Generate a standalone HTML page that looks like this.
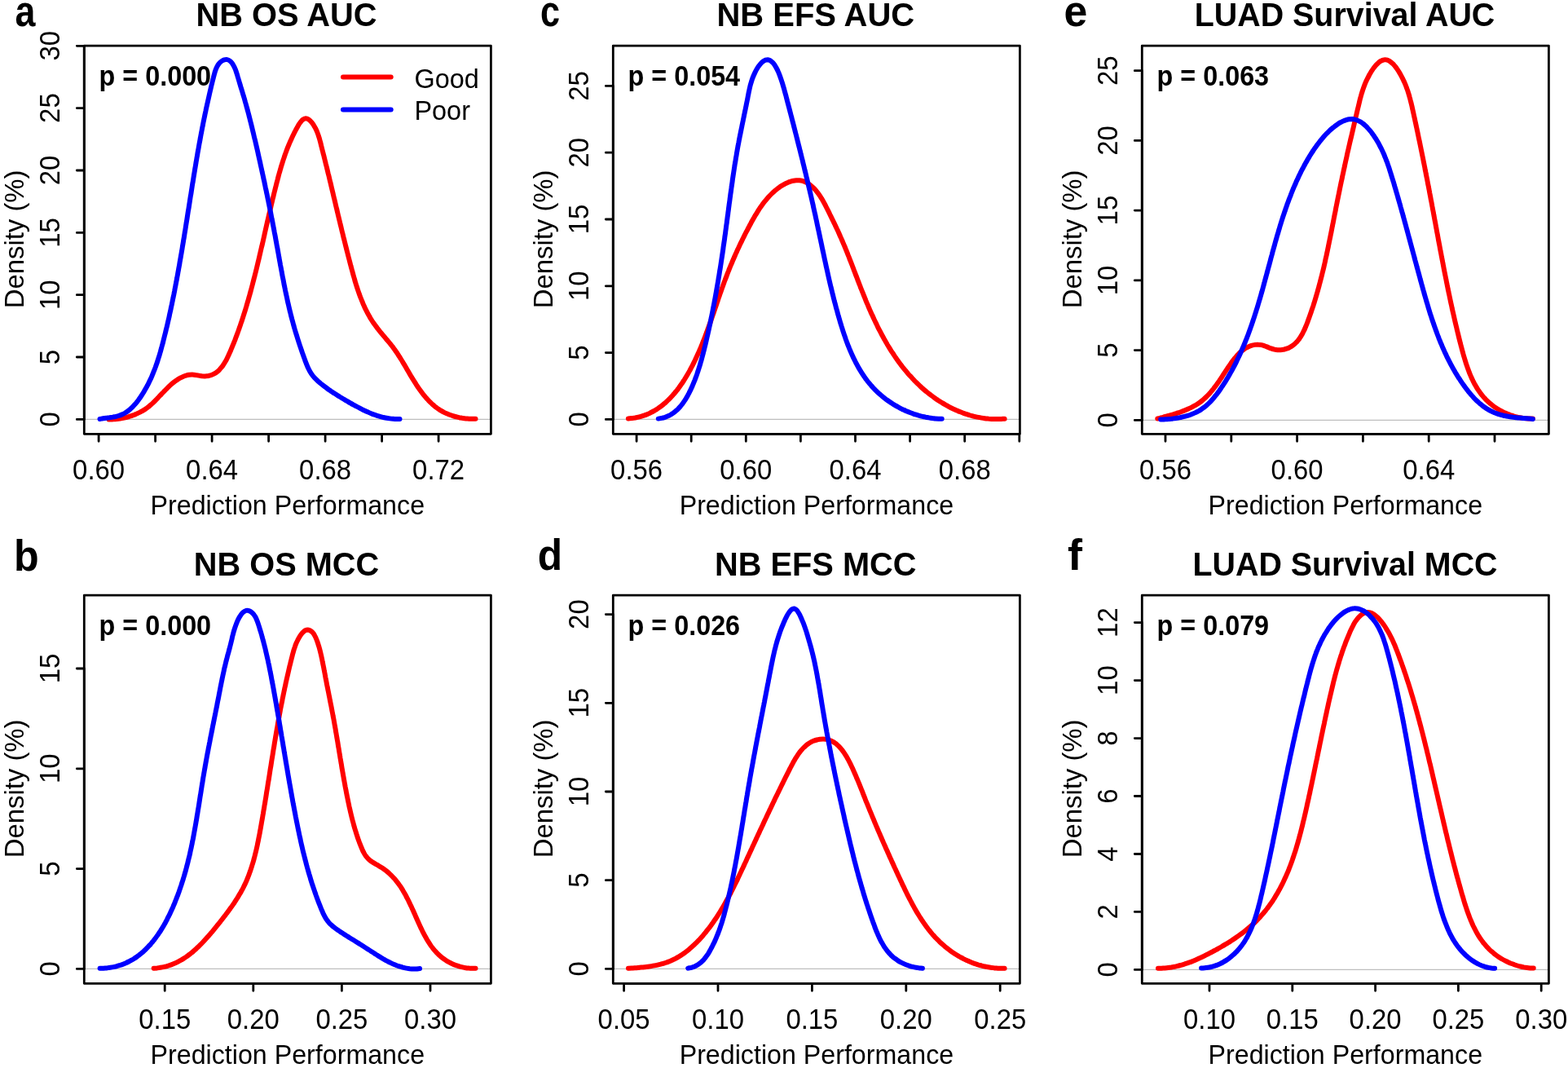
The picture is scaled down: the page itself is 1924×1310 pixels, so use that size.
<!DOCTYPE html><html><head><meta charset="utf-8"><title>Density plots</title><style>html,body{margin:0;padding:0;background:#fff;width:1924px;height:1310px;overflow:hidden}svg{display:block}text{font-family:"Liberation Sans", Arial, sans-serif}</style></head><body>
<svg width="1924" height="1310" viewBox="0 0 1924 1310">
<rect width="1924" height="1310" fill="#fff"/>
<g><line x1="103.3" y1="514.4" x2="602.4" y2="514.4" stroke="#bebebe" stroke-width="1.3"/><path d="M133.5 514.4C134.8 514.4 136.1 514.4 137.5 514.4C138.8 514.3 140.1 514.3 141.4 514.2C142.8 514.1 144.1 513.9 145.4 513.7C146.8 513.6 148.1 513.4 149.4 513.1C150.7 512.9 152.1 512.6 153.4 512.3C154.7 512 156 511.7 157.3 511.3C158.6 510.9 159.9 510.5 161.2 510.1C162.5 509.7 163.7 509.2 165 508.7C166.2 508.2 167.5 507.7 168.7 507.1C169.9 506.6 171.1 506 172.3 505.4C173.5 504.7 174.6 504.1 175.8 503.4C176.9 502.7 178 502 179.1 501.2C180.2 500.5 181.2 499.7 182.3 498.9C183.3 498 184.3 497.2 185.3 496.3C186.3 495.5 187.2 494.6 188.2 493.7C189.1 492.8 190.1 491.8 191 490.9C192 489.9 192.9 489 193.8 488C194.7 487.1 195.6 486.1 196.5 485.1C197.5 484.1 198.4 483.1 199.3 482.2C200.2 481.2 201.2 480.2 202.1 479.2C203 478.2 204 477.3 205 476.3C205.9 475.4 206.9 474.4 207.9 473.5C208.9 472.5 210 471.6 211 470.7C212.1 469.8 213.1 469 214.2 468.1C215.3 467.3 216.4 466.5 217.6 465.8C218.7 465 219.9 464.3 221 463.7C222.2 463 223.4 462.4 224.6 461.9C225.8 461.4 227 461 228.3 460.6C229.5 460.3 230.8 460 232.1 459.8C233.3 459.7 234.6 459.6 235.9 459.6C237.2 459.6 238.5 459.8 239.8 460C241.2 460.1 242.5 460.4 243.8 460.6C245.1 460.9 246.5 461.1 247.8 461.3C249.1 461.4 250.5 461.5 251.8 461.4C253.1 461.4 254.4 461.2 255.7 461C256.9 460.7 258.2 460.4 259.4 460C260.6 459.5 261.8 459 262.9 458.4C264 457.8 265.1 457.1 266.1 456.3C267.1 455.5 268.1 454.7 269 453.8C269.9 452.8 270.8 451.9 271.6 450.8C272.5 449.8 273.3 448.7 274 447.6C274.8 446.5 275.5 445.3 276.2 444.1C276.9 442.9 277.6 441.7 278.2 440.4C278.9 439.2 279.5 437.9 280.1 436.6C280.7 435.3 281.3 434 281.8 432.7C282.4 431.4 283 430.1 283.5 428.8C284.1 427.5 284.6 426.2 285.1 424.9C285.6 423.6 286.2 422.4 286.7 421.1C287.2 419.8 287.7 418.5 288.2 417.3C288.7 416 289.1 414.8 289.6 413.5C290.1 412.3 290.6 411 291 409.8C291.5 408.5 291.9 407.3 292.4 406C292.8 404.8 293.3 403.6 293.7 402.3C294.1 401.1 294.6 399.8 295 398.6C295.4 397.4 295.8 396.1 296.3 394.9C296.7 393.6 297.1 392.4 297.5 391.1C297.9 389.9 298.3 388.6 298.7 387.4C299.1 386.1 299.5 384.9 299.9 383.6C300.3 382.4 300.7 381.1 301.1 379.9C301.5 378.6 301.8 377.3 302.2 376.1C302.6 374.8 303 373.5 303.3 372.3C303.7 371 304.1 369.7 304.5 368.5C304.8 367.2 305.2 365.9 305.5 364.7C305.9 363.4 306.3 362.1 306.6 360.8C307 359.5 307.3 358.3 307.7 357C308 355.7 308.4 354.4 308.7 353.1C309 351.8 309.4 350.6 309.7 349.3C310.1 348 310.4 346.7 310.7 345.4C311.1 344.1 311.4 342.8 311.7 341.5C312.1 340.2 312.4 338.9 312.7 337.7C313 336.4 313.4 335.1 313.7 333.8C314 332.5 314.3 331.2 314.7 329.9C315 328.6 315.3 327.3 315.6 326C315.9 324.7 316.2 323.4 316.5 322.1C316.9 320.8 317.2 319.5 317.5 318.2C317.8 316.8 318.1 315.5 318.4 314.2C318.7 312.9 319 311.6 319.3 310.3C319.6 309 319.9 307.7 320.2 306.4C320.5 305.1 320.8 303.8 321.1 302.5C321.5 301.2 321.8 299.9 322.1 298.5C322.4 297.2 322.7 295.9 323 294.6C323.3 293.3 323.6 292 323.9 290.7C324.2 289.4 324.5 288.1 324.7 286.8C325 285.4 325.3 284.1 325.6 282.8C325.9 281.5 326.2 280.2 326.5 278.9C326.8 277.6 327.1 276.3 327.4 275C327.7 273.7 328 272.3 328.3 271C328.6 269.7 328.9 268.4 329.2 267.1C329.5 265.8 329.8 264.5 330.1 263.2C330.4 261.9 330.7 260.6 331.1 259.3C331.4 258 331.7 256.7 332 255.4C332.3 254 332.6 252.7 332.9 251.4C333.2 250.1 333.5 248.8 333.8 247.5C334.1 246.2 334.4 244.9 334.7 243.6C335.1 242.3 335.4 241 335.7 239.7C336 238.4 336.3 237.1 336.6 235.8C337 234.5 337.3 233.2 337.6 232C337.9 230.7 338.2 229.4 338.6 228.1C338.9 226.8 339.2 225.5 339.6 224.2C339.9 222.9 340.2 221.6 340.6 220.3C340.9 219.1 341.2 217.8 341.6 216.5C341.9 215.2 342.3 213.9 342.6 212.6C343 211.4 343.4 210.1 343.7 208.8C344.1 207.5 344.5 206.2 344.8 205C345.2 203.7 345.6 202.4 346 201.1C346.4 199.9 346.8 198.6 347.2 197.3C347.6 196 348 194.8 348.5 193.5C348.9 192.2 349.3 191 349.8 189.7C350.2 188.4 350.7 187.2 351.2 185.9C351.6 184.6 352.1 183.4 352.6 182.1C353.1 180.8 353.6 179.6 354.1 178.3C354.6 177.1 355.2 175.8 355.7 174.5C356.2 173.3 356.8 172 357.4 170.8C357.9 169.5 358.5 168.3 359.1 167C359.7 165.7 360.4 164.5 361 163.2C361.6 162 362.3 160.7 362.9 159.5C363.6 158.2 364.3 157 365 155.8C365.7 154.5 366.4 153.3 367.1 152.1C367.9 151 368.6 149.9 369.4 149C370.1 148.1 370.9 147.2 371.8 146.6C372.6 146 373.4 145.5 374.3 145.4C375.1 145.2 376 145.3 376.9 145.6C377.8 145.9 378.7 146.5 379.5 147.1C380.5 147.9 381.3 148.8 382.2 149.8C383.1 150.8 383.9 152 384.7 153.2C385.5 154.5 386.3 155.9 387 157.2C387.7 158.6 388.4 160.1 389 161.5C389.6 163 390.1 164.4 390.6 165.9C391.1 167.4 391.6 168.8 392 170.3C392.4 171.7 392.8 173.2 393.2 174.6C393.6 176 393.9 177.4 394.2 178.8C394.6 180.1 394.9 181.5 395.2 182.8C395.6 184.1 395.9 185.4 396.2 186.7C396.5 187.9 396.8 189.2 397.2 190.4C397.5 191.6 397.8 192.9 398.1 194.1C398.4 195.3 398.7 196.5 399 197.8C399.3 199 399.6 200.2 399.9 201.5C400.3 202.7 400.6 204 400.9 205.2C401.2 206.5 401.5 207.8 401.8 209C402.1 210.3 402.4 211.6 402.7 212.9C403.1 214.1 403.4 215.4 403.7 216.7C404 218 404.3 219.3 404.6 220.6C404.9 221.9 405.2 223.2 405.6 224.5C405.9 225.8 406.2 227.2 406.5 228.5C406.8 229.8 407.1 231.1 407.4 232.4C407.8 233.7 408.1 235 408.4 236.4C408.7 237.7 409 239 409.3 240.3C409.6 241.6 409.9 242.9 410.3 244.3C410.6 245.6 410.9 246.9 411.2 248.2C411.5 249.5 411.8 250.8 412.1 252.1C412.4 253.4 412.7 254.7 413.1 256C413.4 257.3 413.7 258.7 414 260C414.3 261.3 414.6 262.6 414.9 263.9C415.2 265.2 415.6 266.5 415.9 267.8C416.2 269.1 416.5 270.4 416.8 271.7C417.1 273 417.4 274.2 417.7 275.5C418.1 276.8 418.4 278.1 418.7 279.4C419 280.7 419.3 282 419.6 283.3C419.9 284.6 420.3 285.9 420.6 287.2C420.9 288.5 421.2 289.8 421.5 291.1C421.8 292.3 422.2 293.6 422.5 294.9C422.8 296.2 423.1 297.5 423.5 298.8C423.8 300.1 424.1 301.4 424.4 302.7C424.8 304 425.1 305.3 425.4 306.5C425.7 307.8 426.1 309.1 426.4 310.4C426.7 311.7 427.1 313 427.4 314.3C427.7 315.6 428.1 316.9 428.4 318.2C428.7 319.5 429.1 320.7 429.4 322C429.7 323.3 430.1 324.6 430.4 325.9C430.8 327.2 431.1 328.5 431.5 329.8C431.8 331.1 432.2 332.4 432.5 333.7C432.9 335 433.2 336.3 433.6 337.6C434 338.9 434.3 340.2 434.7 341.4C435.1 342.7 435.4 344 435.8 345.3C436.2 346.6 436.6 347.9 437 349.2C437.4 350.4 437.8 351.7 438.2 353C438.6 354.3 439.1 355.5 439.5 356.8C439.9 358.1 440.4 359.3 440.8 360.6C441.3 361.9 441.7 363.1 442.2 364.4C442.7 365.6 443.2 366.9 443.7 368.1C444.2 369.3 444.7 370.6 445.2 371.8C445.7 373 446.2 374.2 446.8 375.4C447.3 376.7 447.9 377.9 448.5 379.1C449.1 380.3 449.7 381.4 450.3 382.6C450.9 383.8 451.5 385 452.2 386.1C452.8 387.3 453.5 388.4 454.1 389.6C454.8 390.7 455.5 391.9 456.2 393C456.9 394.1 457.7 395.2 458.4 396.3C459.2 397.4 460 398.5 460.8 399.6C461.6 400.7 462.4 401.8 463.2 402.8C464 403.9 464.9 404.9 465.7 406C466.6 407 467.4 408.1 468.3 409.1C469.2 410.2 470 411.2 470.9 412.2C471.8 413.3 472.7 414.3 473.5 415.3C474.4 416.4 475.3 417.4 476.1 418.4C477 419.5 477.8 420.5 478.7 421.5C479.5 422.6 480.4 423.6 481.2 424.7C482 425.7 482.8 426.8 483.6 427.9C484.3 428.9 485.1 430 485.8 431.1C486.6 432.2 487.3 433.3 488.1 434.3C488.8 435.4 489.5 436.5 490.2 437.7C490.9 438.8 491.6 439.9 492.3 441C493 442.1 493.7 443.2 494.3 444.4C495 445.5 495.7 446.6 496.4 447.8C497 448.9 497.7 450.1 498.4 451.2C499.1 452.4 499.7 453.5 500.4 454.7C501.1 455.8 501.8 457 502.4 458.2C503.1 459.3 503.8 460.5 504.5 461.7C505.2 462.8 505.9 464 506.6 465.1C507.3 466.3 508.1 467.5 508.8 468.6C509.5 469.8 510.2 470.9 511 472.1C511.7 473.2 512.5 474.3 513.3 475.4C514 476.6 514.8 477.7 515.6 478.8C516.4 479.9 517.2 481 518 482C518.8 483.1 519.6 484.2 520.5 485.2C521.3 486.2 522.2 487.3 523.1 488.3C524 489.3 524.9 490.2 525.8 491.2C526.7 492.2 527.6 493.1 528.6 494C529.5 494.9 530.5 495.8 531.5 496.7C532.5 497.5 533.5 498.4 534.5 499.2C535.6 500 536.6 500.8 537.7 501.5C538.8 502.2 539.9 503 541 503.6C542.2 504.3 543.3 505 544.5 505.6C545.7 506.2 546.9 506.8 548.1 507.3C549.3 507.8 550.6 508.3 551.8 508.8C553.1 509.3 554.4 509.7 555.7 510.1C556.9 510.5 558.2 510.9 559.6 511.2C560.9 511.6 562.2 511.9 563.5 512.2C564.8 512.4 566.2 512.7 567.5 512.9C568.9 513.1 570.2 513.3 571.5 513.4C572.9 513.5 574.2 513.6 575.6 513.7C576.9 513.8 578.2 513.8 579.5 513.8C580.9 513.9 582.2 513.8 583.5 513.8" fill="none" stroke="#ff0000" stroke-width="6" stroke-linecap="round" stroke-linejoin="round"/><path d="M122.5 514C123.8 513.8 125 513.5 126.3 513.3C127.6 513.1 129 512.9 130.3 512.7C131.6 512.5 133 512.4 134.3 512.2C135.7 512 137.1 511.8 138.4 511.6C139.7 511.3 141.1 511.1 142.4 510.8C143.7 510.5 145 510.2 146.3 509.7C147.5 509.3 148.8 508.9 150 508.3C151.2 507.8 152.3 507.2 153.5 506.5C154.6 505.8 155.7 505.1 156.8 504.3C157.8 503.6 158.9 502.7 159.9 501.8C160.9 501 161.8 500 162.8 499.1C163.7 498.1 164.6 497.1 165.5 496.1C166.4 495.1 167.3 494 168.1 492.9C169 491.9 169.8 490.8 170.6 489.6C171.4 488.5 172.2 487.4 172.9 486.3C173.7 485.2 174.4 484 175.1 482.9C175.9 481.7 176.6 480.6 177.2 479.4C177.9 478.3 178.6 477.1 179.2 475.9C179.9 474.8 180.5 473.6 181.1 472.4C181.8 471.2 182.4 470 182.9 468.8C183.5 467.6 184.1 466.4 184.7 465.2C185.2 464 185.8 462.8 186.3 461.6C186.8 460.4 187.3 459.2 187.8 457.9C188.3 456.7 188.8 455.5 189.3 454.2C189.8 453 190.2 451.8 190.7 450.5C191.1 449.3 191.6 448 192 446.8C192.5 445.5 192.9 444.3 193.3 443C193.7 441.7 194.1 440.5 194.5 439.2C194.9 437.9 195.3 436.7 195.7 435.4C196.1 434.1 196.4 432.8 196.8 431.6C197.2 430.3 197.5 429 197.9 427.7C198.2 426.4 198.6 425.2 198.9 423.9C199.3 422.6 199.6 421.3 200 420C200.3 418.7 200.6 417.4 200.9 416.1C201.3 414.8 201.6 413.5 201.9 412.2C202.2 410.9 202.6 409.6 202.9 408.3C203.2 407.1 203.5 405.8 203.8 404.5C204.1 403.2 204.5 401.9 204.8 400.6C205.1 399.3 205.4 397.9 205.7 396.6C206 395.3 206.3 394 206.6 392.7C206.9 391.4 207.2 390.1 207.5 388.8C207.8 387.5 208 386.2 208.3 384.9C208.6 383.6 208.9 382.3 209.2 381C209.5 379.7 209.7 378.4 210 377C210.3 375.7 210.6 374.4 210.9 373.1C211.1 371.8 211.4 370.5 211.7 369.2C211.9 367.9 212.2 366.5 212.5 365.2C212.7 363.9 213 362.6 213.3 361.3C213.5 360 213.8 358.7 214.1 357.3C214.3 356 214.6 354.7 214.8 353.4C215.1 352.1 215.3 350.8 215.6 349.4C215.8 348.1 216.1 346.8 216.3 345.5C216.6 344.2 216.8 342.9 217.1 341.5C217.3 340.2 217.6 338.9 217.8 337.6C218.1 336.3 218.3 334.9 218.5 333.6C218.8 332.3 219 331 219.2 329.7C219.5 328.3 219.7 327 220 325.7C220.2 324.4 220.4 323.1 220.6 321.7C220.9 320.4 221.1 319.1 221.3 317.8C221.6 316.4 221.8 315.1 222 313.8C222.2 312.5 222.5 311.2 222.7 309.8C222.9 308.5 223.1 307.2 223.4 305.9C223.6 304.6 223.8 303.2 224 301.9C224.2 300.6 224.5 299.3 224.7 297.9C224.9 296.6 225.1 295.3 225.3 294C225.6 292.7 225.8 291.3 226 290C226.2 288.7 226.4 287.4 226.6 286.1C226.8 284.7 227.1 283.4 227.3 282.1C227.5 280.8 227.7 279.5 227.9 278.1C228.1 276.8 228.3 275.5 228.5 274.2C228.7 272.9 229 271.6 229.2 270.2C229.4 268.9 229.6 267.6 229.8 266.3C230 265 230.2 263.7 230.4 262.3C230.6 261 230.8 259.7 231 258.4C231.3 257.1 231.5 255.8 231.7 254.5C231.9 253.1 232.1 251.8 232.3 250.5C232.5 249.2 232.7 247.9 232.9 246.6C233.1 245.3 233.3 244 233.5 242.6C233.7 241.3 233.9 240 234.2 238.7C234.4 237.4 234.6 236.1 234.8 234.8C235 233.5 235.2 232.2 235.4 230.9C235.6 229.6 235.8 228.2 236 226.9C236.2 225.6 236.4 224.3 236.7 223C236.9 221.7 237.1 220.4 237.3 219.1C237.5 217.8 237.7 216.5 237.9 215.2C238.1 213.9 238.4 212.6 238.6 211.2C238.8 209.9 239 208.6 239.2 207.3C239.4 206 239.7 204.7 239.9 203.4C240.1 202.1 240.3 200.8 240.5 199.5C240.7 198.2 241 196.9 241.2 195.6C241.4 194.2 241.6 192.9 241.9 191.6C242.1 190.3 242.3 189 242.5 187.7C242.8 186.4 243 185.1 243.2 183.8C243.5 182.5 243.7 181.2 243.9 179.8C244.2 178.5 244.4 177.2 244.6 175.9C244.9 174.6 245.1 173.3 245.4 172C245.6 170.7 245.8 169.3 246.1 168C246.3 166.7 246.6 165.4 246.8 164.1C247.1 162.8 247.3 161.4 247.6 160.1C247.8 158.8 248.1 157.5 248.3 156.2C248.6 154.9 248.9 153.5 249.1 152.2C249.4 150.9 249.6 149.6 249.9 148.2C250.2 146.9 250.4 145.6 250.7 144.3C251 143 251.3 141.6 251.5 140.3C251.8 139 252.1 137.6 252.4 136.3C252.6 135 252.9 133.7 253.2 132.3C253.5 131 253.8 129.7 254.1 128.3C254.4 127 254.7 125.7 255 124.3C255.3 123 255.6 121.6 255.9 120.3C256.2 119 256.5 117.6 256.8 116.3C257.1 114.9 257.4 113.6 257.7 112.3C258 110.9 258.4 109.6 258.7 108.2C259 106.9 259.3 105.5 259.6 104.2C260 102.8 260.3 101.5 260.6 100.1C261 98.8 261.3 97.4 261.7 96C262 94.7 262.3 93.3 262.7 92C263.1 90.6 263.4 89.3 263.8 88C264.2 86.7 264.7 85.4 265.2 84.1C265.7 82.9 266.2 81.7 266.9 80.6C267.5 79.6 268.2 78.5 269.1 77.6C269.9 76.7 270.8 75.8 271.8 75.1C272.8 74.4 274 73.8 275.1 73.4C276.3 73.1 277.5 72.9 278.7 73.1C279.8 73.3 281 73.9 282 74.6C283 75.3 284 76.4 284.8 77.5C285.7 78.7 286.4 80 287.1 81.3C287.8 82.6 288.4 84 289 85.5C289.5 86.9 290 88.5 290.5 90C291 91.4 291.4 93 291.8 94.4C292.3 95.9 292.7 97.3 293.1 98.7C293.5 100.1 293.9 101.4 294.3 102.8C294.7 104 295.1 105.3 295.4 106.6C295.8 107.8 296.2 109 296.6 110.2C296.9 111.5 297.3 112.7 297.7 113.9C298 115.1 298.4 116.3 298.8 117.5C299.1 118.7 299.5 119.9 299.9 121.1C300.2 122.4 300.6 123.6 300.9 124.8C301.3 126.1 301.6 127.4 302 128.6C302.3 129.9 302.7 131.2 303 132.4C303.4 133.7 303.7 135 304.1 136.3C304.4 137.6 304.8 138.9 305.1 140.2C305.4 141.5 305.8 142.8 306.1 144.1C306.4 145.4 306.8 146.8 307.1 148.1C307.4 149.4 307.8 150.7 308.1 152C308.4 153.3 308.8 154.7 309.1 156C309.4 157.3 309.7 158.6 310 159.9C310.4 161.2 310.7 162.5 311 163.9C311.3 165.2 311.6 166.5 311.9 167.8C312.2 169.1 312.5 170.4 312.9 171.7C313.2 173 313.5 174.3 313.8 175.6C314.1 176.9 314.4 178.2 314.7 179.5C315 180.8 315.3 182.1 315.6 183.4C315.9 184.7 316.2 186 316.5 187.3C316.7 188.6 317 189.9 317.3 191.2C317.6 192.5 317.9 193.8 318.2 195.1C318.5 196.4 318.8 197.7 319.1 199C319.4 200.3 319.6 201.6 319.9 202.9C320.2 204.2 320.5 205.5 320.8 206.8C321.1 208.1 321.4 209.4 321.6 210.7C321.9 212 322.2 213.3 322.5 214.6C322.8 215.9 323.1 217.2 323.3 218.5C323.6 219.8 323.9 221.1 324.2 222.4C324.5 223.7 324.7 225 325 226.3C325.3 227.6 325.6 229 325.8 230.3C326.1 231.6 326.4 232.9 326.7 234.2C326.9 235.5 327.2 236.8 327.5 238.1C327.8 239.4 328 240.7 328.3 242C328.6 243.3 328.8 244.6 329.1 245.9C329.4 247.2 329.6 248.6 329.9 249.9C330.2 251.2 330.4 252.5 330.7 253.8C331 255.1 331.2 256.4 331.5 257.7C331.8 259 332 260.3 332.3 261.7C332.5 263 332.8 264.3 333 265.6C333.3 266.9 333.6 268.2 333.8 269.5C334.1 270.8 334.3 272.1 334.6 273.5C334.8 274.8 335.1 276.1 335.3 277.4C335.6 278.7 335.8 280 336.1 281.3C336.3 282.7 336.6 284 336.8 285.3C337.1 286.6 337.3 287.9 337.6 289.2C337.8 290.6 338.1 291.9 338.3 293.2C338.5 294.5 338.8 295.8 339 297.1C339.3 298.5 339.5 299.8 339.7 301.1C340 302.4 340.2 303.7 340.5 305C340.7 306.4 340.9 307.7 341.2 309C341.4 310.3 341.7 311.6 341.9 312.9C342.1 314.3 342.4 315.6 342.6 316.9C342.8 318.2 343.1 319.5 343.3 320.9C343.6 322.2 343.8 323.5 344 324.8C344.3 326.1 344.5 327.4 344.8 328.8C345 330.1 345.3 331.4 345.5 332.7C345.8 334 346 335.3 346.2 336.6C346.5 338 346.7 339.3 347 340.6C347.3 341.9 347.5 343.2 347.8 344.5C348 345.8 348.3 347.1 348.5 348.5C348.8 349.8 349.1 351.1 349.3 352.4C349.6 353.7 349.9 355 350.1 356.3C350.4 357.6 350.7 358.9 350.9 360.2C351.2 361.5 351.5 362.8 351.8 364.1C352.1 365.4 352.3 366.7 352.6 368C352.9 369.4 353.2 370.7 353.5 372C353.8 373.2 354.1 374.5 354.4 375.8C354.7 377.1 355 378.4 355.3 379.7C355.6 381 355.9 382.3 356.3 383.6C356.6 384.9 356.9 386.2 357.2 387.5C357.6 388.8 357.9 390.1 358.2 391.3C358.6 392.6 358.9 393.9 359.3 395.2C359.6 396.5 360 397.8 360.3 399C360.7 400.3 361 401.6 361.4 402.9C361.8 404.1 362.1 405.4 362.5 406.7C362.9 408 363.3 409.2 363.7 410.5C364.1 411.8 364.5 413 364.9 414.3C365.3 415.6 365.7 416.9 366.1 418.1C366.5 419.4 366.9 420.7 367.3 421.9C367.7 423.2 368.2 424.5 368.6 425.7C369 427 369.4 428.3 369.9 429.5C370.3 430.8 370.8 432.1 371.2 433.4C371.7 434.6 372.1 435.9 372.6 437.2C373 438.4 373.5 439.7 374 441C374.4 442.3 374.9 443.6 375.4 444.8C375.9 446.1 376.4 447.4 376.9 448.6C377.4 449.9 378 451.1 378.6 452.3C379.1 453.5 379.8 454.7 380.4 455.8C381.1 457 381.8 458.1 382.6 459.2C383.3 460.2 384.1 461.3 385 462.3C385.8 463.3 386.7 464.2 387.7 465.2C388.6 466.1 389.6 467 390.6 467.9C391.5 468.8 392.6 469.6 393.6 470.5C394.6 471.3 395.7 472.1 396.7 472.9C397.8 473.8 398.8 474.6 399.9 475.3C401 476.1 402 476.9 403.1 477.7C404.2 478.5 405.3 479.2 406.4 480C407.5 480.7 408.6 481.4 409.7 482.2C410.9 482.9 412 483.6 413.1 484.3C414.2 485.1 415.4 485.8 416.5 486.5C417.7 487.2 418.8 487.9 419.9 488.5C421.1 489.2 422.2 489.9 423.4 490.6C424.6 491.3 425.7 491.9 426.9 492.6C428 493.3 429.2 494 430.4 494.6C431.5 495.3 432.7 496 433.9 496.6C435.1 497.3 436.2 497.9 437.4 498.5C438.6 499.2 439.8 499.8 441 500.4C442.2 501.1 443.4 501.7 444.5 502.3C445.7 502.9 446.9 503.4 448.2 504C449.4 504.6 450.6 505.1 451.8 505.6C453 506.2 454.2 506.7 455.5 507.2C456.7 507.7 457.9 508.2 459.2 508.6C460.4 509.1 461.7 509.5 462.9 509.9C464.2 510.3 465.4 510.7 466.7 511C468 511.4 469.3 511.7 470.5 512C471.8 512.3 473.1 512.6 474.4 512.8C475.7 513 477 513.2 478.4 513.4C479.7 513.6 481 513.7 482.4 513.8C483.7 513.9 485.1 514 486.4 514C487.8 514 489.2 513.9 490.5 513.9" fill="none" stroke="#0000ff" stroke-width="6" stroke-linecap="round" stroke-linejoin="round"/><rect x="103.3" y="56.2" width="499.1" height="476.1" fill="none" stroke="#000" stroke-width="2.8" stroke-linejoin="round"/><path d="M121.1 532.3H538.1M121.1 532.3V541.3M190.6 532.3V541.3M260.1 532.3V541.3M329.6 532.3V541.3M399.1 532.3V541.3M468.6 532.3V541.3M538.1 532.3V541.3M103.3 514.4V56.3M103.3 514.4H94.3M103.3 438H94.3M103.3 361.7H94.3M103.3 285.4H94.3M103.3 209H94.3M103.3 132.6H94.3M103.3 56.3H94.3" fill="none" stroke="#000" stroke-width="2.8" stroke-linecap="round"/><text transform="translate(121.1 587.8) scale(0.934 1)" font-size="35.2" text-anchor="middle">0.60</text><text transform="translate(260.1 587.8) scale(0.934 1)" font-size="35.2" text-anchor="middle">0.64</text><text transform="translate(399.1 587.8) scale(0.934 1)" font-size="35.2" text-anchor="middle">0.68</text><text transform="translate(538.1 587.8) scale(0.934 1)" font-size="35.2" text-anchor="middle">0.72</text><text transform="translate(72.8 514.4) rotate(-90) scale(0.934 1)" font-size="35.2" text-anchor="middle">0</text><text transform="translate(72.8 438) rotate(-90) scale(0.934 1)" font-size="35.2" text-anchor="middle">5</text><text transform="translate(72.8 361.7) rotate(-90) scale(0.934 1)" font-size="35.2" text-anchor="middle">10</text><text transform="translate(72.8 285.4) rotate(-90) scale(0.934 1)" font-size="35.2" text-anchor="middle">15</text><text transform="translate(72.8 209) rotate(-90) scale(0.934 1)" font-size="35.2" text-anchor="middle">20</text><text transform="translate(72.8 132.6) rotate(-90) scale(0.934 1)" font-size="35.2" text-anchor="middle">25</text><text transform="translate(72.8 56.3) rotate(-90) scale(0.934 1)" font-size="35.2" text-anchor="middle">30</text><text transform="translate(352.8 631.4) scale(0.994 1)" font-size="32.4" text-anchor="middle">Prediction Performance</text><text transform="translate(29.2 293.4) rotate(-90) scale(1.015 1)" font-size="32.4" text-anchor="middle">Density (%)</text><text transform="translate(351.5 31.6) scale(0.9968 1)" font-size="40" font-weight="bold" text-anchor="middle">NB OS AUC</text><text transform="translate(121.6 104.6) scale(0.924 1)" font-size="35" font-weight="bold">p = 0.000</text><line x1="421" y1="94.6" x2="479.7" y2="94.6" stroke="#ff0000" stroke-width="6" stroke-linecap="round"/><line x1="421" y1="134.5" x2="479.7" y2="134.5" stroke="#0000ff" stroke-width="6" stroke-linecap="round"/><text x="508.5" y="108.1" font-size="32.4">Good</text><text x="508.5" y="147.3" font-size="32.4">Poor</text><text transform="translate(18.4 31.5) scale(0.83 1)" font-size="54" font-weight="bold">a</text></g>
<g><line x1="103.3" y1="1188.4" x2="602.4" y2="1188.4" stroke="#bebebe" stroke-width="1.3"/><path d="M188.7 1187.7C190.1 1187.6 191.5 1187.5 192.9 1187.4C194.3 1187.2 195.6 1187 197 1186.8C198.3 1186.6 199.6 1186.4 200.9 1186.1C202.2 1185.8 203.5 1185.4 204.8 1185.1C206.1 1184.7 207.3 1184.3 208.6 1183.9C209.8 1183.5 211 1183 212.2 1182.5C213.4 1182 214.6 1181.5 215.8 1181C217 1180.4 218.1 1179.8 219.3 1179.2C220.4 1178.6 221.5 1178 222.7 1177.4C223.8 1176.7 224.9 1176 226 1175.3C227.1 1174.6 228.1 1173.9 229.2 1173.1C230.3 1172.4 231.3 1171.6 232.4 1170.8C233.4 1170 234.4 1169.2 235.5 1168.4C236.5 1167.5 237.5 1166.7 238.5 1165.8C239.5 1164.9 240.5 1164 241.4 1163.1C242.4 1162.2 243.4 1161.3 244.3 1160.4C245.3 1159.4 246.2 1158.5 247.2 1157.5C248.1 1156.6 249.1 1155.6 250 1154.6C250.9 1153.6 251.8 1152.6 252.7 1151.6C253.6 1150.6 254.5 1149.6 255.4 1148.6C256.3 1147.6 257.2 1146.5 258.1 1145.5C259 1144.5 259.8 1143.4 260.7 1142.4C261.6 1141.3 262.4 1140.3 263.3 1139.2C264.2 1138.2 265 1137.1 265.9 1136.1C266.7 1135 267.6 1133.9 268.4 1132.9C269.3 1131.8 270.1 1130.8 270.9 1129.7C271.8 1128.6 272.6 1127.6 273.4 1126.5C274.3 1125.5 275.1 1124.4 275.9 1123.3C276.7 1122.3 277.5 1121.2 278.3 1120.2C279.1 1119.1 279.9 1118 280.7 1116.9C281.5 1115.9 282.3 1114.8 283 1113.7C283.8 1112.7 284.6 1111.6 285.3 1110.5C286.1 1109.4 286.8 1108.3 287.6 1107.2C288.3 1106.1 289 1105 289.7 1103.9C290.4 1102.8 291.1 1101.7 291.8 1100.6C292.5 1099.5 293.2 1098.4 293.8 1097.2C294.5 1096.1 295.2 1095 295.8 1093.8C296.4 1092.7 297.1 1091.5 297.7 1090.4C298.3 1089.2 298.9 1088.1 299.4 1086.9C300 1085.7 300.6 1084.5 301.1 1083.4C301.7 1082.2 302.2 1081 302.7 1079.8C303.2 1078.6 303.7 1077.4 304.2 1076.1C304.7 1074.9 305.2 1073.7 305.6 1072.5C306.1 1071.2 306.5 1070 307 1068.7C307.4 1067.5 307.8 1066.2 308.2 1065C308.7 1063.7 309.1 1062.5 309.4 1061.2C309.8 1059.9 310.2 1058.7 310.6 1057.4C311 1056.1 311.3 1054.8 311.7 1053.5C312 1052.2 312.4 1050.9 312.7 1049.6C313 1048.3 313.3 1047 313.7 1045.7C314 1044.4 314.3 1043.1 314.6 1041.8C314.9 1040.5 315.2 1039.2 315.5 1037.9C315.8 1036.6 316 1035.3 316.3 1033.9C316.6 1032.6 316.9 1031.3 317.1 1030C317.4 1028.6 317.6 1027.3 317.9 1026C318.2 1024.7 318.4 1023.3 318.7 1022C318.9 1020.7 319.1 1019.3 319.4 1018C319.6 1016.7 319.9 1015.4 320.1 1014C320.3 1012.7 320.6 1011.4 320.8 1010C321 1008.7 321.3 1007.4 321.5 1006.1C321.7 1004.7 322 1003.4 322.2 1002.1C322.4 1000.8 322.6 999.4 322.9 998.1C323.1 996.8 323.3 995.5 323.5 994.1C323.8 992.8 324 991.5 324.2 990.2C324.4 988.8 324.6 987.5 324.9 986.2C325.1 984.9 325.3 983.5 325.5 982.2C325.7 980.9 326 979.6 326.2 978.3C326.4 976.9 326.6 975.6 326.8 974.3C327 973 327.2 971.7 327.4 970.3C327.7 969 327.9 967.7 328.1 966.4C328.3 965.1 328.5 963.7 328.7 962.4C328.9 961.1 329.1 959.8 329.3 958.5C329.6 957.2 329.8 955.8 330 954.5C330.2 953.2 330.4 951.9 330.6 950.6C330.8 949.3 331 948 331.2 946.6C331.4 945.3 331.6 944 331.8 942.7C332.1 941.4 332.3 940.1 332.5 938.8C332.7 937.4 332.9 936.1 333.1 934.8C333.3 933.5 333.5 932.2 333.7 930.9C333.9 929.6 334.2 928.3 334.4 926.9C334.6 925.6 334.8 924.3 335 923C335.2 921.7 335.4 920.4 335.6 919.1C335.9 917.8 336.1 916.5 336.3 915.2C336.5 913.8 336.7 912.5 336.9 911.2C337.1 909.9 337.4 908.6 337.6 907.3C337.8 906 338 904.7 338.2 903.4C338.5 902.1 338.7 900.8 338.9 899.5C339.1 898.1 339.4 896.8 339.6 895.5C339.8 894.2 340 892.9 340.3 891.6C340.5 890.3 340.7 889 340.9 887.7C341.2 886.4 341.4 885.1 341.6 883.8C341.9 882.5 342.1 881.2 342.4 879.9C342.6 878.6 342.8 877.3 343.1 875.9C343.3 874.6 343.6 873.3 343.8 872C344 870.7 344.3 869.4 344.5 868.1C344.8 866.8 345 865.5 345.3 864.2C345.5 862.9 345.8 861.6 346.1 860.3C346.3 859 346.6 857.7 346.8 856.4C347.1 855.1 347.4 853.8 347.6 852.5C347.9 851.2 348.2 849.9 348.4 848.6C348.7 847.3 349 846 349.2 844.7C349.5 843.4 349.8 842.1 350.1 840.8C350.4 839.5 350.6 838.2 350.9 836.9C351.2 835.6 351.5 834.2 351.8 832.9C352.1 831.6 352.4 830.3 352.7 829C353 827.7 353.3 826.4 353.6 825.1C353.9 823.8 354.2 822.5 354.5 821.2C354.8 819.9 355.1 818.6 355.4 817.2C355.8 815.9 356.1 814.6 356.4 813.3C356.7 812 357 810.7 357.4 809.3C357.7 808 358 806.7 358.4 805.4C358.7 804.1 359 802.7 359.4 801.4C359.8 800.1 360.1 798.8 360.5 797.5C360.9 796.2 361.3 794.8 361.8 793.6C362.2 792.3 362.7 791 363.2 789.7C363.7 788.4 364.3 787.2 364.9 786C365.5 784.7 366.2 783.5 366.9 782.3C367.6 781.1 368.3 779.9 369.1 778.8C369.9 777.7 370.8 776.5 371.8 775.6C372.7 774.7 373.6 773.8 374.6 773.3C375.6 772.8 376.7 772.5 377.7 772.5C378.8 772.6 379.9 773 380.9 773.6C381.9 774.2 382.9 775.1 383.8 776.1C384.7 777.1 385.5 778.4 386.2 779.7C387 781 387.6 782.4 388.2 783.9C388.8 785.3 389.3 786.8 389.8 788.3C390.3 789.8 390.8 791.2 391.2 792.7C391.6 794 392 795.4 392.3 796.7C392.7 798 393 799.2 393.3 800.5C393.6 801.7 393.9 803 394.2 804.2C394.4 805.4 394.7 806.7 395 807.9C395.2 809.2 395.5 810.4 395.7 811.7C396 813 396.2 814.3 396.5 815.6C396.8 816.9 397 818.2 397.3 819.5C397.5 820.8 397.8 822.1 398 823.4C398.3 824.7 398.5 826 398.8 827.4C399 828.7 399.3 830 399.5 831.3C399.8 832.7 400 834 400.3 835.3C400.5 836.6 400.8 837.9 401 839.3C401.3 840.6 401.6 841.9 401.8 843.2C402.1 844.5 402.3 845.8 402.6 847.1C402.9 848.4 403.1 849.7 403.4 851.1C403.6 852.4 403.9 853.7 404.2 855C404.4 856.3 404.7 857.6 404.9 858.9C405.2 860.2 405.4 861.5 405.7 862.8C406 864.1 406.2 865.4 406.5 866.7C406.7 868 407 869.3 407.2 870.6C407.5 872 407.7 873.3 408 874.6C408.2 875.9 408.5 877.2 408.7 878.5C409 879.8 409.2 881.1 409.5 882.4C409.7 883.7 409.9 885 410.2 886.3C410.4 887.7 410.6 889 410.9 890.3C411.1 891.6 411.3 892.9 411.6 894.2C411.8 895.5 412 896.9 412.2 898.2C412.5 899.5 412.7 900.8 412.9 902.1C413.1 903.4 413.4 904.8 413.6 906.1C413.8 907.4 414 908.7 414.3 910C414.5 911.3 414.7 912.7 414.9 914C415.1 915.3 415.3 916.6 415.6 917.9C415.8 919.3 416 920.6 416.2 921.9C416.4 923.2 416.7 924.5 416.9 925.9C417.1 927.2 417.3 928.5 417.5 929.8C417.8 931.1 418 932.5 418.2 933.8C418.4 935.1 418.6 936.4 418.9 937.7C419.1 939 419.3 940.4 419.5 941.7C419.7 943 420 944.3 420.2 945.6C420.4 946.9 420.7 948.3 420.9 949.6C421.1 950.9 421.3 952.2 421.6 953.5C421.8 954.8 422 956.2 422.3 957.5C422.5 958.8 422.8 960.1 423 961.4C423.2 962.7 423.5 964 423.7 965.3C424 966.6 424.2 968 424.5 969.3C424.7 970.6 425 971.9 425.2 973.2C425.5 974.5 425.7 975.8 426 977.1C426.3 978.4 426.5 979.7 426.8 981C427.1 982.3 427.3 983.6 427.6 984.9C427.9 986.2 428.2 987.5 428.4 988.8C428.7 990.1 429 991.4 429.3 992.7C429.6 994 429.9 995.3 430.2 996.6C430.5 997.8 430.8 999.1 431.1 1000.4C431.4 1001.7 431.7 1003 432.1 1004.3C432.4 1005.6 432.7 1006.8 433.1 1008.1C433.4 1009.4 433.8 1010.7 434.1 1012C434.5 1013.3 434.8 1014.5 435.2 1015.8C435.6 1017.1 436 1018.4 436.4 1019.6C436.8 1020.9 437.2 1022.2 437.6 1023.5C438 1024.7 438.4 1026 438.8 1027.3C439.3 1028.6 439.7 1029.8 440.2 1031.1C440.6 1032.4 441.1 1033.6 441.6 1034.9C442.1 1036.2 442.6 1037.4 443.1 1038.7C443.6 1040 444.1 1041.2 444.7 1042.5C445.2 1043.7 445.8 1044.9 446.5 1046.1C447.1 1047.2 447.8 1048.4 448.5 1049.5C449.3 1050.5 450.1 1051.6 451 1052.5C451.9 1053.5 452.8 1054.4 453.8 1055.2C454.9 1056 456 1056.8 457.1 1057.5C458.2 1058.3 459.4 1059 460.6 1059.7C461.8 1060.4 463 1061 464.2 1061.7C465.3 1062.4 466.5 1063.1 467.7 1063.8C468.8 1064.5 469.9 1065.2 471 1066C472.1 1066.8 473.2 1067.6 474.2 1068.4C475.2 1069.2 476.2 1070.1 477.2 1070.9C478.2 1071.8 479.1 1072.7 480 1073.6C480.9 1074.5 481.8 1075.4 482.7 1076.4C483.6 1077.4 484.4 1078.3 485.3 1079.3C486.1 1080.3 486.9 1081.3 487.7 1082.4C488.5 1083.4 489.2 1084.4 490 1085.5C490.7 1086.6 491.5 1087.6 492.2 1088.7C492.9 1089.8 493.6 1090.9 494.3 1092.1C494.9 1093.2 495.6 1094.3 496.3 1095.5C496.9 1096.6 497.6 1097.8 498.2 1099C498.8 1100.1 499.4 1101.3 500 1102.5C500.7 1103.7 501.3 1104.9 501.8 1106.1C502.4 1107.3 503 1108.5 503.6 1109.8C504.2 1111 504.7 1112.2 505.3 1113.4C505.9 1114.7 506.4 1115.9 507 1117.2C507.6 1118.4 508.1 1119.7 508.7 1120.9C509.2 1122.2 509.8 1123.4 510.3 1124.7C510.9 1125.9 511.4 1127.2 512 1128.4C512.6 1129.7 513.1 1130.9 513.7 1132.2C514.2 1133.4 514.8 1134.7 515.4 1135.9C516 1137.2 516.6 1138.4 517.1 1139.6C517.7 1140.9 518.3 1142.1 518.9 1143.3C519.6 1144.5 520.2 1145.7 520.8 1146.9C521.4 1148.1 522.1 1149.3 522.8 1150.4C523.4 1151.6 524.1 1152.7 524.8 1153.9C525.5 1155 526.2 1156.1 526.9 1157.2C527.6 1158.3 528.4 1159.4 529.1 1160.5C529.9 1161.5 530.7 1162.6 531.5 1163.6C532.3 1164.6 533.1 1165.6 534 1166.6C534.8 1167.5 535.7 1168.5 536.6 1169.4C537.5 1170.3 538.5 1171.2 539.4 1172.1C540.4 1173 541.4 1173.8 542.4 1174.6C543.4 1175.4 544.5 1176.2 545.6 1176.9C546.6 1177.7 547.8 1178.4 548.9 1179.1C550 1179.7 551.2 1180.4 552.4 1181C553.6 1181.6 554.8 1182.2 556 1182.7C557.2 1183.2 558.5 1183.7 559.8 1184.2C561 1184.6 562.3 1185 563.6 1185.4C564.9 1185.8 566.2 1186.1 567.5 1186.4C568.8 1186.7 570.2 1187 571.5 1187.2C572.8 1187.4 574.2 1187.5 575.5 1187.6C576.8 1187.8 578.2 1187.8 579.5 1187.8C580.8 1187.9 582.2 1187.8 583.5 1187.8" fill="none" stroke="#ff0000" stroke-width="6" stroke-linecap="round" stroke-linejoin="round"/><path d="M122.6 1187.8C124 1187.8 125.5 1187.8 127 1187.7C128.4 1187.6 129.8 1187.5 131.2 1187.4C132.6 1187.2 134 1187 135.4 1186.8C136.8 1186.6 138.1 1186.4 139.5 1186.1C140.8 1185.8 142.1 1185.5 143.4 1185.1C144.7 1184.8 145.9 1184.4 147.2 1184C148.5 1183.6 149.7 1183.2 150.9 1182.7C152.1 1182.2 153.3 1181.7 154.5 1181.2C155.7 1180.7 156.9 1180.1 158 1179.5C159.1 1178.9 160.3 1178.3 161.4 1177.7C162.5 1177.1 163.6 1176.4 164.7 1175.7C165.7 1175 166.8 1174.3 167.9 1173.6C168.9 1172.8 169.9 1172.1 170.9 1171.3C172 1170.5 173 1169.7 173.9 1168.8C174.9 1168 175.9 1167.2 176.8 1166.3C177.8 1165.4 178.7 1164.5 179.6 1163.6C180.6 1162.7 181.5 1161.7 182.3 1160.8C183.2 1159.8 184.1 1158.9 185 1157.9C185.8 1156.9 186.7 1155.9 187.5 1154.9C188.3 1153.8 189.2 1152.8 190 1151.7C190.8 1150.7 191.6 1149.6 192.3 1148.5C193.1 1147.5 193.9 1146.4 194.6 1145.2C195.4 1144.1 196.1 1143 196.9 1141.9C197.6 1140.7 198.3 1139.6 199 1138.4C199.7 1137.3 200.4 1136.1 201.1 1134.9C201.7 1133.8 202.4 1132.6 203.1 1131.4C203.7 1130.2 204.4 1129 205 1127.8C205.6 1126.5 206.2 1125.3 206.9 1124.1C207.5 1122.9 208.1 1121.6 208.7 1120.4C209.2 1119.2 209.8 1117.9 210.4 1116.7C211 1115.4 211.5 1114.2 212.1 1112.9C212.6 1111.7 213.1 1110.4 213.7 1109.2C214.2 1107.9 214.7 1106.7 215.2 1105.4C215.7 1104.1 216.2 1102.9 216.7 1101.6C217.2 1100.3 217.7 1099.1 218.2 1097.8C218.6 1096.5 219.1 1095.3 219.6 1094C220 1092.7 220.5 1091.5 220.9 1090.2C221.3 1088.9 221.8 1087.6 222.2 1086.4C222.6 1085.1 223 1083.8 223.4 1082.5C223.9 1081.3 224.3 1080 224.7 1078.7C225 1077.4 225.4 1076.1 225.8 1074.9C226.2 1073.6 226.6 1072.3 226.9 1071C227.3 1069.7 227.7 1068.4 228 1067.2C228.4 1065.9 228.7 1064.6 229 1063.3C229.4 1062 229.7 1060.7 230.1 1059.4C230.4 1058.1 230.7 1056.8 231 1055.5C231.3 1054.3 231.6 1053 232 1051.7C232.3 1050.4 232.6 1049.1 232.9 1047.8C233.2 1046.5 233.4 1045.2 233.7 1043.9C234 1042.6 234.3 1041.3 234.6 1040C234.9 1038.7 235.1 1037.4 235.4 1036.1C235.7 1034.8 235.9 1033.5 236.2 1032.2C236.4 1030.9 236.7 1029.6 237 1028.3C237.2 1026.9 237.5 1025.6 237.7 1024.3C238 1023 238.2 1021.7 238.4 1020.4C238.7 1019.1 238.9 1017.8 239.1 1016.5C239.4 1015.2 239.6 1013.9 239.8 1012.6C240.1 1011.2 240.3 1009.9 240.5 1008.6C240.7 1007.3 241 1006 241.2 1004.7C241.4 1003.4 241.6 1002.1 241.8 1000.7C242.1 999.4 242.3 998.1 242.5 996.8C242.7 995.5 242.9 994.2 243.1 992.9C243.3 991.5 243.6 990.2 243.8 988.9C244 987.6 244.2 986.3 244.4 985C244.6 983.6 244.8 982.3 245 981C245.2 979.7 245.4 978.4 245.6 977.1C245.8 975.7 246.1 974.4 246.3 973.1C246.5 971.8 246.7 970.5 246.9 969.1C247.1 967.8 247.3 966.5 247.5 965.2C247.7 963.9 247.9 962.6 248.2 961.2C248.4 959.9 248.6 958.6 248.8 957.3C249 956 249.2 954.6 249.4 953.3C249.7 952 249.9 950.7 250.1 949.4C250.3 948 250.6 946.7 250.8 945.4C251 944.1 251.2 942.8 251.5 941.5C251.7 940.1 251.9 938.8 252.2 937.5C252.4 936.2 252.6 934.9 252.9 933.5C253.1 932.2 253.4 930.9 253.6 929.6C253.8 928.3 254.1 927 254.3 925.6C254.6 924.3 254.8 923 255.1 921.7C255.3 920.4 255.6 919 255.8 917.7C256.1 916.4 256.3 915.1 256.6 913.8C256.8 912.5 257.1 911.1 257.4 909.8C257.6 908.5 257.9 907.2 258.1 905.9C258.4 904.6 258.6 903.2 258.9 901.9C259.2 900.6 259.4 899.3 259.7 898C259.9 896.7 260.2 895.4 260.5 894C260.7 892.7 261 891.4 261.2 890.1C261.5 888.8 261.8 887.5 262 886.2C262.3 884.8 262.6 883.5 262.8 882.2C263.1 880.9 263.3 879.6 263.6 878.3C263.9 877 264.1 875.7 264.4 874.3C264.6 873 264.9 871.7 265.2 870.4C265.4 869.1 265.7 867.8 266 866.5C266.2 865.2 266.5 863.9 266.7 862.5C267 861.2 267.2 859.9 267.5 858.6C267.8 857.3 268 856 268.3 854.7C268.5 853.4 268.8 852.1 269 850.8C269.3 849.5 269.5 848.2 269.8 846.9C270 845.5 270.3 844.2 270.5 842.9C270.8 841.6 271.1 840.3 271.3 839C271.6 837.7 271.8 836.4 272.1 835.1C272.4 833.8 272.6 832.5 272.9 831.2C273.2 829.9 273.4 828.6 273.7 827.3C274 826 274.3 824.6 274.6 823.3C274.9 822 275.1 820.7 275.4 819.4C275.8 818.1 276.1 816.8 276.4 815.5C276.7 814.2 277 812.9 277.3 811.6C277.7 810.3 278 809 278.4 807.7C278.7 806.4 279 805 279.4 803.7C279.7 802.4 280.1 801.2 280.5 799.9C280.8 798.6 281.1 797.3 281.5 796C281.8 794.7 282.2 793.5 282.5 792.2C282.8 791 283.1 789.7 283.4 788.5C283.7 787.3 284 786.1 284.3 784.8C284.6 783.6 284.8 782.4 285.1 781.1C285.4 779.9 285.8 778.6 286.1 777.3C286.4 776 286.8 774.7 287.2 773.4C287.6 771.9 288.1 770.5 288.6 769.1C289.1 767.6 289.6 766.1 290.2 764.6C290.8 763.1 291.4 761.6 292.1 760.2C292.8 758.8 293.5 757.4 294.3 756.1C295.1 754.9 295.8 753.7 296.7 752.7C297.5 751.7 298.4 750.8 299.4 750.2C300.3 749.6 301.3 749.1 302.2 748.9C303.2 748.7 304.3 748.8 305.3 749.1C306.3 749.4 307.4 750 308.3 750.7C309.3 751.4 310.3 752.3 311.1 753.3C311.9 754.3 312.6 755.4 313.3 756.6C314 757.8 314.5 759.1 315.1 760.4C315.7 761.7 316.1 763.1 316.6 764.5C317.1 765.9 317.5 767.3 318 768.7C318.4 770.1 318.8 771.5 319.2 772.9C319.7 774.2 320.1 775.6 320.5 777C320.9 778.4 321.3 779.7 321.6 781.1C322 782.4 322.4 783.8 322.7 785.2C323.1 786.5 323.5 787.8 323.8 789.2C324.2 790.5 324.5 791.8 324.8 793.2C325.2 794.5 325.5 795.8 325.8 797.1C326.1 798.5 326.4 799.8 326.7 801.1C327 802.4 327.3 803.7 327.6 805C327.9 806.3 328.2 807.6 328.5 808.9C328.8 810.2 329.1 811.5 329.3 812.8C329.6 814.1 329.9 815.4 330.2 816.7C330.4 818 330.7 819.3 330.9 820.6C331.2 821.9 331.5 823.2 331.7 824.4C332 825.7 332.2 827 332.5 828.3C332.7 829.6 333 830.9 333.2 832.2C333.4 833.5 333.7 834.8 333.9 836.1C334.2 837.4 334.4 838.7 334.7 839.9C334.9 841.2 335.1 842.5 335.4 843.8C335.6 845.1 335.8 846.4 336.1 847.7C336.3 849 336.5 850.3 336.8 851.6C337 852.9 337.2 854.2 337.5 855.5C337.7 856.8 337.9 858.1 338.2 859.5C338.4 860.8 338.6 862.1 338.9 863.4C339.1 864.7 339.3 866 339.5 867.3C339.8 868.6 340 869.9 340.2 871.2C340.4 872.5 340.7 873.8 340.9 875.2C341.1 876.5 341.3 877.8 341.6 879.1C341.8 880.4 342 881.7 342.2 883C342.5 884.3 342.7 885.7 342.9 887C343.1 888.3 343.3 889.6 343.6 890.9C343.8 892.2 344 893.6 344.2 894.9C344.4 896.2 344.7 897.5 344.9 898.8C345.1 900.2 345.3 901.5 345.5 902.8C345.8 904.1 346 905.4 346.2 906.7C346.4 908.1 346.6 909.4 346.9 910.7C347.1 912 347.3 913.4 347.5 914.7C347.7 916 348 917.3 348.2 918.6C348.4 920 348.6 921.3 348.8 922.6C349.1 923.9 349.3 925.2 349.5 926.6C349.7 927.9 349.9 929.2 350.2 930.5C350.4 931.9 350.6 933.2 350.8 934.5C351 935.8 351.3 937.1 351.5 938.5C351.7 939.8 351.9 941.1 352.2 942.4C352.4 943.8 352.6 945.1 352.8 946.4C353.1 947.7 353.3 949.1 353.5 950.4C353.7 951.7 354 953 354.2 954.3C354.4 955.7 354.6 957 354.9 958.3C355.1 959.6 355.3 961 355.6 962.3C355.8 963.6 356 964.9 356.3 966.2C356.5 967.6 356.7 968.9 357 970.2C357.2 971.5 357.4 972.8 357.7 974.2C357.9 975.5 358.1 976.8 358.4 978.1C358.6 979.4 358.9 980.7 359.1 982.1C359.3 983.4 359.6 984.7 359.8 986C360.1 987.3 360.3 988.6 360.6 990C360.8 991.3 361.1 992.6 361.3 993.9C361.6 995.2 361.8 996.5 362.1 997.8C362.3 999.2 362.6 1000.5 362.8 1001.8C363.1 1003.1 363.3 1004.4 363.6 1005.7C363.8 1007 364.1 1008.3 364.4 1009.6C364.6 1011 364.9 1012.3 365.2 1013.6C365.4 1014.9 365.7 1016.2 366 1017.5C366.2 1018.8 366.5 1020.1 366.8 1021.4C367 1022.7 367.3 1024 367.6 1025.3C367.9 1026.6 368.2 1027.9 368.5 1029.2C368.7 1030.5 369 1031.8 369.3 1033.1C369.6 1034.4 369.9 1035.7 370.2 1037C370.5 1038.3 370.8 1039.6 371.1 1040.9C371.4 1042.2 371.7 1043.5 372 1044.8C372.4 1046.1 372.7 1047.4 373 1048.7C373.3 1050 373.6 1051.3 374 1052.5C374.3 1053.8 374.6 1055.1 375 1056.4C375.3 1057.7 375.6 1059 376 1060.3C376.3 1061.6 376.7 1062.9 377 1064.1C377.4 1065.4 377.8 1066.7 378.1 1068C378.5 1069.3 378.9 1070.6 379.2 1071.8C379.6 1073.1 380 1074.4 380.4 1075.7C380.8 1077 381.1 1078.2 381.5 1079.5C381.9 1080.8 382.3 1082.1 382.7 1083.3C383.2 1084.6 383.6 1085.9 384 1087.1C384.4 1088.4 384.8 1089.7 385.3 1091C385.7 1092.2 386.1 1093.5 386.6 1094.8C387 1096 387.5 1097.3 387.9 1098.6C388.4 1099.8 388.8 1101.1 389.3 1102.4C389.8 1103.6 390.2 1104.9 390.7 1106.1C391.2 1107.4 391.7 1108.7 392.2 1109.9C392.7 1111.2 393.2 1112.4 393.7 1113.7C394.2 1114.9 394.7 1116.2 395.3 1117.4C395.8 1118.7 396.3 1119.9 396.9 1121.1C397.5 1122.3 398.1 1123.5 398.8 1124.7C399.4 1125.8 400.1 1127 400.8 1128.1C401.6 1129.2 402.4 1130.2 403.2 1131.2C404.1 1132.2 405 1133.2 405.9 1134.1C406.9 1135 407.9 1135.8 408.9 1136.7C409.9 1137.5 411 1138.3 412.1 1139.1C413.2 1139.9 414.3 1140.7 415.4 1141.4C416.5 1142.2 417.6 1142.9 418.7 1143.7C419.9 1144.4 421 1145.1 422.1 1145.9C423.2 1146.6 424.3 1147.3 425.5 1148C426.6 1148.7 427.7 1149.4 428.8 1150.1C430 1150.8 431.1 1151.5 432.2 1152.2C433.4 1152.9 434.5 1153.6 435.6 1154.3C436.7 1155 437.9 1155.7 439 1156.4C440.1 1157.1 441.2 1157.8 442.4 1158.5C443.5 1159.2 444.6 1159.9 445.8 1160.6C446.9 1161.4 448 1162.1 449.1 1162.8C450.3 1163.5 451.4 1164.2 452.5 1165C453.7 1165.7 454.8 1166.4 455.9 1167.2C457 1167.9 458.2 1168.6 459.3 1169.4C460.4 1170.1 461.6 1170.8 462.7 1171.5C463.8 1172.3 465 1173 466.1 1173.7C467.3 1174.4 468.4 1175.1 469.6 1175.8C470.7 1176.4 471.9 1177.1 473.1 1177.8C474.2 1178.4 475.4 1179 476.6 1179.6C477.7 1180.3 478.9 1180.8 480.1 1181.4C481.3 1182 482.5 1182.5 483.7 1183C484.9 1183.5 486.2 1184 487.4 1184.5C488.6 1184.9 489.9 1185.3 491.1 1185.7C492.3 1186.1 493.6 1186.5 494.9 1186.8C496.2 1187.1 497.4 1187.4 498.7 1187.6C500 1187.8 501.3 1188 502.7 1188.2C504 1188.3 505.3 1188.4 506.7 1188.4C508 1188.5 509.4 1188.5 510.8 1188.4C512.2 1188.4 513.6 1188.2 515 1188.1" fill="none" stroke="#0000ff" stroke-width="6" stroke-linecap="round" stroke-linejoin="round"/><rect x="103.3" y="730.2" width="499.1" height="476.1" fill="none" stroke="#000" stroke-width="2.8" stroke-linejoin="round"/><path d="M202.2 1206.3H528M202.2 1206.3V1215.3M310.8 1206.3V1215.3M419.4 1206.3V1215.3M528 1206.3V1215.3M103.3 1188.4V820M103.3 1188.4H94.3M103.3 1065.6H94.3M103.3 942.8H94.3M103.3 820H94.3" fill="none" stroke="#000" stroke-width="2.8" stroke-linecap="round"/><text transform="translate(202.2 1261.8) scale(0.934 1)" font-size="35.2" text-anchor="middle">0.15</text><text transform="translate(310.8 1261.8) scale(0.934 1)" font-size="35.2" text-anchor="middle">0.20</text><text transform="translate(419.4 1261.8) scale(0.934 1)" font-size="35.2" text-anchor="middle">0.25</text><text transform="translate(528 1261.8) scale(0.934 1)" font-size="35.2" text-anchor="middle">0.30</text><text transform="translate(72.8 1188.4) rotate(-90) scale(0.934 1)" font-size="35.2" text-anchor="middle">0</text><text transform="translate(72.8 1065.6) rotate(-90) scale(0.934 1)" font-size="35.2" text-anchor="middle">5</text><text transform="translate(72.8 942.8) rotate(-90) scale(0.934 1)" font-size="35.2" text-anchor="middle">10</text><text transform="translate(72.8 820) rotate(-90) scale(0.934 1)" font-size="35.2" text-anchor="middle">15</text><text transform="translate(352.8 1305.4) scale(0.994 1)" font-size="32.4" text-anchor="middle">Prediction Performance</text><text transform="translate(29.2 967.4) rotate(-90) scale(1.015 1)" font-size="32.4" text-anchor="middle">Density (%)</text><text transform="translate(351.5 705.6) scale(0.9933 1)" font-size="40" font-weight="bold" text-anchor="middle">NB OS MCC</text><text transform="translate(121.6 778.6) scale(0.924 1)" font-size="35" font-weight="bold">p = 0.000</text><text transform="translate(17 699.5) scale(0.93 1)" font-size="54" font-weight="bold">b</text></g>
<g><line x1="752.3" y1="514.4" x2="1251.4" y2="514.4" stroke="#bebebe" stroke-width="1.3"/><path d="M770.9 513.5C772.3 513.3 773.7 513.2 775.1 513.1C776.5 512.9 777.9 512.7 779.2 512.5C780.6 512.2 781.9 512 783.2 511.6C784.6 511.3 785.9 511 787.1 510.6C788.4 510.2 789.7 509.8 790.9 509.4C792.2 508.9 793.4 508.4 794.6 507.9C795.8 507.4 797 506.9 798.1 506.3C799.3 505.7 800.5 505.1 801.6 504.5C802.7 503.9 803.8 503.2 804.9 502.6C806 501.9 807.1 501.2 808.2 500.4C809.2 499.7 810.3 498.9 811.3 498.2C812.3 497.4 813.3 496.6 814.3 495.7C815.3 494.9 816.3 494.1 817.3 493.2C818.2 492.3 819.2 491.4 820.1 490.5C821.1 489.6 822 488.7 822.9 487.7C823.8 486.8 824.7 485.8 825.6 484.8C826.4 483.8 827.3 482.8 828.1 481.8C829 480.8 829.8 479.7 830.7 478.7C831.5 477.6 832.3 476.6 833.1 475.5C833.9 474.4 834.7 473.3 835.4 472.2C836.2 471.1 836.9 470 837.7 468.9C838.4 467.7 839.2 466.6 839.9 465.5C840.6 464.3 841.3 463.2 842 462C842.7 460.8 843.4 459.7 844.1 458.5C844.8 457.3 845.4 456.1 846.1 455C846.7 453.8 847.4 452.6 848 451.4C848.6 450.2 849.3 449 849.9 447.8C850.5 446.6 851.1 445.4 851.7 444.2C852.3 443 852.9 441.8 853.4 440.6C854 439.3 854.6 438.1 855.1 436.9C855.7 435.7 856.3 434.5 856.8 433.2C857.4 432 857.9 430.8 858.4 429.6C859 428.3 859.5 427.1 860 425.9C860.5 424.6 861 423.4 861.5 422.2C862 420.9 862.5 419.7 863 418.5C863.5 417.2 864 416 864.5 414.7C865 413.5 865.4 412.2 865.9 411C866.4 409.7 866.8 408.5 867.3 407.2C867.8 406 868.2 404.7 868.7 403.5C869.1 402.2 869.6 401 870 399.7C870.5 398.5 870.9 397.2 871.4 396C871.8 394.7 872.3 393.4 872.7 392.2C873.1 390.9 873.6 389.7 874 388.4C874.4 387.1 874.9 385.9 875.3 384.6C875.7 383.4 876.2 382.1 876.6 380.8C877 379.6 877.5 378.3 877.9 377.1C878.3 375.8 878.7 374.5 879.2 373.3C879.6 372 880 370.8 880.5 369.5C880.9 368.2 881.3 367 881.7 365.7C882.2 364.5 882.6 363.2 883 362C883.5 360.7 883.9 359.4 884.4 358.2C884.8 356.9 885.2 355.7 885.7 354.4C886.1 353.2 886.6 351.9 887 350.7C887.5 349.4 887.9 348.2 888.4 346.9C888.8 345.7 889.3 344.4 889.8 343.2C890.2 341.9 890.7 340.7 891.2 339.5C891.6 338.2 892.1 337 892.6 335.7C893.1 334.5 893.6 333.3 894.1 332C894.5 330.8 895 329.6 895.5 328.3C896 327.1 896.5 325.9 897.1 324.6C897.6 323.4 898.1 322.2 898.6 321C899.1 319.8 899.6 318.5 900.2 317.3C900.7 316.1 901.2 314.9 901.8 313.7C902.3 312.4 902.8 311.2 903.4 310C903.9 308.8 904.5 307.6 905 306.4C905.6 305.2 906.2 304 906.7 302.8C907.3 301.6 907.9 300.4 908.4 299.2C909 298 909.6 296.8 910.2 295.6C910.8 294.4 911.3 293.2 911.9 292C912.5 290.8 913.1 289.6 913.7 288.4C914.3 287.2 914.9 286 915.5 284.8C916.2 283.6 916.8 282.5 917.4 281.3C918 280.1 918.6 278.9 919.3 277.7C919.9 276.5 920.5 275.4 921.2 274.2C921.8 273 922.4 271.8 923.1 270.7C923.8 269.5 924.4 268.3 925.1 267.2C925.7 266 926.4 264.8 927.1 263.7C927.8 262.5 928.5 261.4 929.2 260.3C929.9 259.1 930.6 258 931.3 256.9C932.1 255.8 932.8 254.6 933.6 253.5C934.4 252.4 935.1 251.4 935.9 250.3C936.7 249.2 937.5 248.1 938.4 247.1C939.2 246 940.1 245 941 244C941.8 242.9 942.7 241.9 943.7 240.9C944.6 240 945.5 239 946.5 238C947.5 237.1 948.5 236.1 949.5 235.2C950.5 234.3 951.6 233.4 952.7 232.5C953.7 231.7 954.8 230.8 956 230C957.1 229.2 958.2 228.4 959.4 227.7C960.5 227 961.7 226.3 962.9 225.7C964 225.1 965.2 224.5 966.5 224C967.6 223.5 968.9 223 970.1 222.7C971.3 222.3 972.5 222 973.7 221.7C974.9 221.5 976.2 221.4 977.4 221.3C978.6 221.2 979.8 221.2 981 221.3C982.2 221.4 983.4 221.6 984.6 221.9C985.8 222.2 987 222.7 988.2 223.2C989.3 223.7 990.5 224.3 991.6 225C992.8 225.8 993.9 226.6 994.9 227.5C996 228.4 997.1 229.4 998.1 230.4C999.1 231.4 1000.1 232.5 1001.1 233.6C1002 234.7 1002.9 235.8 1003.8 237C1004.6 238.1 1005.4 239.2 1006.2 240.4C1006.9 241.5 1007.7 242.7 1008.4 243.9C1009.1 245 1009.7 246.2 1010.4 247.4C1011 248.5 1011.7 249.7 1012.3 250.9C1012.9 252.1 1013.5 253.3 1014.1 254.5C1014.7 255.7 1015.3 256.9 1015.9 258C1016.5 259.2 1017.1 260.4 1017.7 261.6C1018.2 262.8 1018.8 264 1019.4 265.2C1020 266.4 1020.6 267.6 1021.2 268.8C1021.8 270 1022.3 271.2 1022.9 272.4C1023.5 273.6 1024.1 274.8 1024.7 276C1025.2 277.2 1025.8 278.4 1026.4 279.6C1026.9 280.8 1027.5 282 1028.1 283.2C1028.6 284.4 1029.2 285.7 1029.7 286.9C1030.3 288.1 1030.8 289.3 1031.3 290.5C1031.9 291.7 1032.4 292.9 1032.9 294.2C1033.5 295.4 1034 296.6 1034.5 297.8C1035 299 1035.5 300.3 1036.1 301.5C1036.6 302.7 1037.1 303.9 1037.6 305.2C1038.1 306.4 1038.6 307.6 1039.1 308.8C1039.6 310.1 1040.1 311.3 1040.5 312.5C1041 313.8 1041.5 315 1042 316.2C1042.5 317.5 1043 318.7 1043.4 319.9C1043.9 321.2 1044.4 322.4 1044.9 323.6C1045.4 324.9 1045.8 326.1 1046.3 327.3C1046.8 328.6 1047.3 329.8 1047.7 331.1C1048.2 332.3 1048.7 333.5 1049.2 334.8C1049.6 336 1050.1 337.3 1050.6 338.5C1051.1 339.7 1051.5 341 1052 342.2C1052.5 343.5 1053 344.7 1053.4 345.9C1053.9 347.2 1054.4 348.4 1054.9 349.7C1055.4 350.9 1055.8 352.1 1056.3 353.4C1056.8 354.6 1057.3 355.9 1057.8 357.1C1058.3 358.3 1058.8 359.6 1059.3 360.8C1059.8 362.1 1060.3 363.3 1060.8 364.5C1061.3 365.8 1061.8 367 1062.3 368.3C1062.8 369.5 1063.3 370.7 1063.8 372C1064.4 373.2 1064.9 374.4 1065.4 375.7C1065.9 376.9 1066.5 378.1 1067 379.4C1067.5 380.6 1068.1 381.8 1068.6 383.1C1069.2 384.3 1069.7 385.5 1070.3 386.7C1070.9 387.9 1071.4 389.2 1072 390.4C1072.5 391.6 1073.1 392.8 1073.7 394C1074.3 395.2 1074.9 396.5 1075.5 397.7C1076 398.9 1076.6 400.1 1077.2 401.3C1077.8 402.5 1078.4 403.7 1079.1 404.9C1079.7 406.1 1080.3 407.2 1080.9 408.4C1081.5 409.6 1082.2 410.8 1082.8 412C1083.5 413.2 1084.1 414.3 1084.7 415.5C1085.4 416.7 1086.1 417.8 1086.7 419C1087.4 420.2 1088.1 421.3 1088.7 422.5C1089.4 423.6 1090.1 424.8 1090.8 425.9C1091.5 427 1092.2 428.2 1092.9 429.3C1093.6 430.4 1094.3 431.5 1095.1 432.7C1095.8 433.8 1096.5 434.9 1097.3 436C1098 437.1 1098.8 438.2 1099.5 439.3C1100.3 440.4 1101.1 441.5 1101.8 442.5C1102.6 443.6 1103.4 444.7 1104.2 445.8C1105 446.8 1105.8 447.9 1106.6 448.9C1107.4 450 1108.2 451 1109.1 452.1C1109.9 453.1 1110.7 454.1 1111.6 455.1C1112.4 456.1 1113.3 457.2 1114.1 458.2C1115 459.2 1115.9 460.2 1116.8 461.1C1117.7 462.1 1118.6 463.1 1119.5 464.1C1120.4 465 1121.3 466 1122.2 467C1123.1 467.9 1124.1 468.8 1125 469.8C1126 470.7 1126.9 471.6 1127.9 472.5C1128.9 473.5 1129.9 474.4 1130.8 475.3C1131.8 476.1 1132.8 477 1133.8 477.9C1134.9 478.8 1135.9 479.6 1136.9 480.5C1137.9 481.3 1139 482.2 1140 483C1141.1 483.8 1142.1 484.6 1143.2 485.4C1144.3 486.2 1145.4 487 1146.4 487.8C1147.5 488.6 1148.6 489.3 1149.7 490.1C1150.8 490.8 1151.9 491.6 1153.1 492.3C1154.2 493 1155.3 493.7 1156.5 494.4C1157.6 495.1 1158.7 495.8 1159.9 496.4C1161.1 497.1 1162.2 497.7 1163.4 498.3C1164.6 499 1165.7 499.6 1166.9 500.2C1168.1 500.8 1169.3 501.4 1170.5 501.9C1171.7 502.5 1172.9 503 1174.1 503.6C1175.3 504.1 1176.6 504.6 1177.8 505.1C1179 505.6 1180.3 506.1 1181.5 506.5C1182.7 507 1184 507.4 1185.3 507.8C1186.5 508.3 1187.8 508.7 1189 509C1190.3 509.4 1191.6 509.8 1192.9 510.1C1194.1 510.5 1195.4 510.8 1196.7 511.1C1198 511.4 1199.3 511.7 1200.6 511.9C1201.9 512.2 1203.2 512.4 1204.5 512.6C1205.8 512.8 1207.1 513 1208.4 513.2C1209.8 513.4 1211.1 513.5 1212.4 513.6C1213.7 513.8 1215.1 513.9 1216.4 513.9C1217.8 514 1219.1 514.1 1220.4 514.1C1221.8 514.1 1223.1 514.1 1224.5 514.1C1225.8 514.1 1227.2 514.1 1228.6 514C1229.9 513.9 1231.3 513.8 1232.6 513.7" fill="none" stroke="#ff0000" stroke-width="6" stroke-linecap="round" stroke-linejoin="round"/><path d="M807.8 513.6C809.2 513.4 810.6 513.2 812 512.9C813.3 512.6 814.7 512.2 816 511.8C817.2 511.4 818.5 510.9 819.7 510.3C820.9 509.8 822 509.2 823.2 508.5C824.3 507.8 825.4 507.1 826.4 506.4C827.4 505.6 828.5 504.8 829.4 503.9C830.4 503.1 831.4 502.2 832.3 501.3C833.2 500.3 834.1 499.4 834.9 498.4C835.8 497.4 836.6 496.3 837.4 495.3C838.2 494.2 839 493.1 839.7 492C840.4 490.9 841.2 489.7 841.9 488.6C842.6 487.4 843.2 486.2 843.9 485.1C844.5 483.9 845.2 482.7 845.8 481.4C846.4 480.2 847 479 847.6 477.8C848.1 476.5 848.7 475.3 849.3 474.1C849.8 472.8 850.3 471.6 850.9 470.3C851.4 469.1 851.9 467.8 852.4 466.6C852.9 465.3 853.3 464.1 853.8 462.8C854.3 461.6 854.7 460.3 855.2 459C855.6 457.8 856 456.5 856.5 455.2C856.9 454 857.3 452.7 857.7 451.4C858.1 450.1 858.5 448.9 858.9 447.6C859.3 446.3 859.6 445 860 443.7C860.4 442.5 860.7 441.2 861.1 439.9C861.4 438.6 861.8 437.3 862.1 436C862.5 434.7 862.8 433.4 863.1 432.2C863.5 430.9 863.8 429.6 864.1 428.3C864.4 427 864.7 425.7 865.1 424.4C865.4 423.1 865.7 421.8 866 420.5C866.3 419.2 866.6 417.9 866.9 416.6C867.2 415.3 867.5 414 867.8 412.7C868.1 411.4 868.4 410.1 868.7 408.8C869 407.5 869.3 406.2 869.6 404.9C869.9 403.6 870.1 402.3 870.4 401C870.7 399.7 871 398.4 871.3 397.1C871.5 395.8 871.8 394.4 872.1 393.1C872.4 391.8 872.6 390.5 872.9 389.2C873.2 387.9 873.4 386.6 873.7 385.3C874 384 874.2 382.7 874.5 381.4C874.7 380 875 378.7 875.2 377.4C875.5 376.1 875.8 374.8 876 373.5C876.3 372.2 876.5 370.9 876.7 369.6C877 368.2 877.2 366.9 877.5 365.6C877.7 364.3 878 363 878.2 361.7C878.4 360.3 878.7 359 878.9 357.7C879.1 356.4 879.4 355.1 879.6 353.8C879.8 352.5 880.1 351.1 880.3 349.8C880.5 348.5 880.7 347.2 881 345.9C881.2 344.5 881.4 343.2 881.6 341.9C881.8 340.6 882.1 339.3 882.3 337.9C882.5 336.6 882.7 335.3 882.9 334C883.1 332.7 883.3 331.3 883.6 330C883.8 328.7 884 327.4 884.2 326.1C884.4 324.7 884.6 323.4 884.8 322.1C885 320.8 885.2 319.4 885.4 318.1C885.6 316.8 885.8 315.5 886 314.2C886.2 312.8 886.4 311.5 886.6 310.2C886.8 308.9 887 307.5 887.2 306.2C887.4 304.9 887.5 303.6 887.7 302.2C887.9 300.9 888.1 299.6 888.3 298.3C888.5 296.9 888.7 295.6 888.9 294.3C889.1 293 889.2 291.6 889.4 290.3C889.6 289 889.8 287.7 890 286.4C890.2 285 890.3 283.7 890.5 282.4C890.7 281.1 890.9 279.7 891 278.4C891.2 277.1 891.4 275.7 891.6 274.4C891.8 273.1 891.9 271.8 892.1 270.4C892.3 269.1 892.5 267.8 892.6 266.5C892.8 265.1 893 263.8 893.2 262.5C893.3 261.2 893.5 259.8 893.7 258.5C893.9 257.2 894 255.9 894.2 254.5C894.4 253.2 894.6 251.9 894.7 250.6C894.9 249.3 895.1 247.9 895.3 246.6C895.5 245.3 895.6 244 895.8 242.6C896 241.3 896.2 240 896.3 238.7C896.5 237.3 896.7 236 896.9 234.7C897.1 233.4 897.3 232 897.4 230.7C897.6 229.4 897.8 228.1 898 226.7C898.2 225.4 898.4 224.1 898.6 222.8C898.7 221.5 898.9 220.1 899.1 218.8C899.3 217.5 899.5 216.2 899.7 214.8C899.9 213.5 900.1 212.2 900.3 210.9C900.5 209.6 900.7 208.2 900.9 206.9C901.1 205.6 901.3 204.3 901.5 203C901.7 201.6 901.9 200.3 902.2 199C902.4 197.7 902.6 196.4 902.8 195C903 193.7 903.2 192.4 903.5 191.1C903.7 189.8 903.9 188.5 904.1 187.1C904.4 185.8 904.6 184.5 904.8 183.2C905.1 181.9 905.3 180.5 905.5 179.2C905.8 177.9 906 176.6 906.3 175.3C906.5 174 906.8 172.7 907 171.3C907.3 170 907.5 168.7 907.8 167.4C908 166.1 908.3 164.8 908.6 163.5C908.8 162.2 909.1 160.8 909.4 159.5C909.6 158.2 909.9 156.9 910.2 155.6C910.4 154.3 910.7 153 911 151.7C911.2 150.4 911.5 149.1 911.8 147.8C912.1 146.5 912.3 145.1 912.6 143.8C912.9 142.5 913.1 141.2 913.4 139.9C913.7 138.6 913.9 137.3 914.2 136C914.5 134.7 914.8 133.4 915 132.1C915.3 130.8 915.6 129.5 915.8 128.2C916.1 126.9 916.3 125.6 916.6 124.3C916.9 123.1 917.1 121.8 917.4 120.5C917.6 119.2 917.9 117.9 918.1 116.6C918.4 115.3 918.6 114 918.9 112.7C919.2 111.4 919.4 110.1 919.7 108.8C920 107.5 920.3 106.2 920.6 104.9C921 103.5 921.4 102.2 921.8 100.9C922.2 99.5 922.6 98.1 923.1 96.7C923.6 95.3 924.2 93.9 924.8 92.5C925.4 91.1 926 89.7 926.7 88.3C927.4 86.9 928.1 85.6 928.9 84.3C929.6 83 930.4 81.8 931.3 80.7C932.1 79.6 932.9 78.5 933.8 77.6C934.7 76.7 935.6 75.9 936.5 75.2C937.4 74.6 938.3 74.1 939.2 73.7C940.2 73.4 941.1 73.3 942.1 73.3C943 73.4 944 73.7 944.9 74.2C945.8 74.7 946.8 75.5 947.6 76.3C948.6 77.2 949.4 78.2 950.2 79.3C951.1 80.5 951.8 81.8 952.5 83.1C953.3 84.4 954 85.9 954.6 87.3C955.3 88.8 955.9 90.3 956.5 91.8C957.1 93.3 957.6 94.8 958.1 96.4C958.7 97.9 959.1 99.4 959.6 100.8C960.1 102.3 960.5 103.7 960.9 105.1C961.3 106.4 961.7 107.8 962.1 109.1C962.4 110.4 962.8 111.7 963.1 112.9C963.5 114.2 963.8 115.5 964.2 116.7C964.5 118 964.8 119.2 965.1 120.4C965.5 121.7 965.8 122.9 966.1 124.2C966.5 125.4 966.8 126.7 967.1 128C967.4 129.2 967.8 130.5 968.1 131.7C968.4 133 968.8 134.2 969.1 135.5C969.4 136.8 969.7 138 970.1 139.3C970.4 140.6 970.7 141.8 971.1 143.1C971.4 144.4 971.7 145.6 972 146.9C972.4 148.2 972.7 149.5 973 150.7C973.4 152 973.7 153.3 974 154.6C974.4 155.9 974.7 157.1 975 158.4C975.3 159.7 975.7 161 976 162.3C976.3 163.6 976.7 164.8 977 166.1C977.3 167.4 977.6 168.7 978 170C978.3 171.3 978.6 172.6 978.9 173.9C979.3 175.2 979.6 176.5 979.9 177.7C980.2 179 980.6 180.3 980.9 181.6C981.2 182.9 981.5 184.2 981.9 185.5C982.2 186.8 982.5 188.1 982.8 189.4C983.2 190.7 983.5 192 983.8 193.3C984.1 194.6 984.5 195.9 984.8 197.2C985.1 198.5 985.4 199.8 985.7 201.2C986.1 202.5 986.4 203.8 986.7 205.1C987 206.4 987.3 207.7 987.6 209C988 210.3 988.3 211.6 988.6 212.9C988.9 214.2 989.2 215.5 989.5 216.8C989.8 218.1 990.2 219.5 990.5 220.8C990.8 222.1 991.1 223.4 991.4 224.7C991.7 226 992 227.3 992.3 228.6C992.6 229.9 992.9 231.2 993.3 232.6C993.6 233.9 993.9 235.2 994.2 236.5C994.5 237.8 994.8 239.1 995.1 240.4C995.4 241.7 995.7 243 996 244.4C996.3 245.7 996.6 247 996.9 248.3C997.2 249.6 997.5 250.9 997.8 252.2C998 253.5 998.3 254.8 998.6 256.2C998.9 257.5 999.2 258.8 999.5 260.1C999.8 261.4 1000.1 262.7 1000.4 264C1000.7 265.3 1000.9 266.6 1001.2 267.9C1001.5 269.2 1001.8 270.5 1002.1 271.9C1002.3 273.2 1002.6 274.5 1002.9 275.8C1003.2 277.1 1003.5 278.4 1003.7 279.7C1004 281 1004.3 282.3 1004.6 283.6C1004.9 284.9 1005.1 286.2 1005.4 287.5C1005.7 288.8 1006 290.1 1006.2 291.4C1006.5 292.7 1006.8 294 1007.1 295.3C1007.3 296.6 1007.6 297.9 1007.9 299.2C1008.2 300.5 1008.4 301.8 1008.7 303.1C1009 304.4 1009.3 305.7 1009.5 307C1009.8 308.3 1010.1 309.6 1010.4 310.9C1010.6 312.2 1010.9 313.5 1011.2 314.8C1011.5 316.1 1011.7 317.4 1012 318.7C1012.3 320 1012.6 321.3 1012.9 322.6C1013.2 323.9 1013.4 325.2 1013.7 326.5C1014 327.8 1014.3 329.1 1014.6 330.4C1014.9 331.7 1015.2 333 1015.5 334.3C1015.7 335.6 1016 336.9 1016.3 338.2C1016.6 339.5 1016.9 340.8 1017.2 342.1C1017.5 343.4 1017.8 344.7 1018.1 346C1018.4 347.3 1018.7 348.6 1019 349.9C1019.3 351.2 1019.7 352.5 1020 353.7C1020.3 355 1020.6 356.3 1020.9 357.6C1021.2 358.9 1021.5 360.2 1021.9 361.5C1022.2 362.8 1022.5 364.1 1022.8 365.4C1023.2 366.7 1023.5 368 1023.8 369.3C1024.2 370.6 1024.5 371.9 1024.9 373.2C1025.2 374.5 1025.5 375.8 1025.9 377.1C1026.2 378.4 1026.6 379.6 1027 380.9C1027.3 382.2 1027.7 383.5 1028 384.8C1028.4 386.1 1028.8 387.4 1029.1 388.7C1029.5 390 1029.9 391.3 1030.3 392.6C1030.6 393.9 1031 395.2 1031.4 396.5C1031.8 397.8 1032.2 399.1 1032.6 400.4C1033 401.6 1033.4 402.9 1033.8 404.2C1034.2 405.5 1034.7 406.8 1035.1 408.1C1035.5 409.4 1035.9 410.6 1036.4 411.9C1036.8 413.2 1037.3 414.5 1037.7 415.8C1038.2 417 1038.6 418.3 1039.1 419.6C1039.6 420.8 1040 422.1 1040.5 423.3C1041 424.6 1041.5 425.8 1042 427.1C1042.5 428.3 1043 429.6 1043.6 430.8C1044.1 432 1044.6 433.3 1045.2 434.5C1045.7 435.7 1046.3 436.9 1046.8 438.1C1047.4 439.3 1048 440.5 1048.6 441.7C1049.2 442.9 1049.8 444.1 1050.4 445.3C1051 446.4 1051.6 447.6 1052.3 448.8C1052.9 449.9 1053.6 451.1 1054.2 452.2C1054.9 453.3 1055.6 454.5 1056.3 455.6C1057 456.7 1057.7 457.8 1058.4 458.9C1059.1 460 1059.9 461.1 1060.6 462.2C1061.4 463.2 1062.1 464.3 1062.9 465.4C1063.7 466.4 1064.5 467.5 1065.3 468.5C1066.1 469.5 1067 470.5 1067.8 471.5C1068.7 472.5 1069.5 473.5 1070.4 474.5C1071.3 475.5 1072.2 476.4 1073.1 477.4C1074 478.3 1075 479.3 1075.9 480.2C1076.9 481.1 1077.9 482 1078.9 482.9C1079.8 483.8 1080.9 484.7 1081.9 485.5C1082.9 486.4 1083.9 487.2 1085 488.1C1086.1 488.9 1087.1 489.7 1088.2 490.5C1089.3 491.3 1090.4 492.1 1091.5 492.8C1092.6 493.6 1093.7 494.3 1094.9 495C1096 495.8 1097.2 496.5 1098.3 497.2C1099.5 497.8 1100.7 498.5 1101.9 499.2C1103 499.8 1104.2 500.4 1105.4 501.1C1106.7 501.7 1107.9 502.3 1109.1 502.8C1110.3 503.4 1111.6 503.9 1112.8 504.5C1114 505 1115.3 505.5 1116.6 506C1117.8 506.5 1119.1 507 1120.4 507.4C1121.6 507.9 1122.9 508.3 1124.2 508.7C1125.5 509.1 1126.8 509.5 1128.1 509.8C1129.4 510.2 1130.7 510.5 1132 510.8C1133.3 511.1 1134.6 511.4 1135.9 511.7C1137.2 511.9 1138.5 512.2 1139.8 512.4C1141.1 512.6 1142.5 512.8 1143.8 513C1145.1 513.1 1146.4 513.3 1147.7 513.4C1149.1 513.5 1150.4 513.6 1151.7 513.7C1153 513.7 1154.4 513.8 1155.7 513.8" fill="none" stroke="#0000ff" stroke-width="6" stroke-linecap="round" stroke-linejoin="round"/><rect x="752.3" y="56.2" width="499.1" height="476.1" fill="none" stroke="#000" stroke-width="2.8" stroke-linejoin="round"/><path d="M781.1 532.3H1250.8M781.1 532.3V541.3M848.2 532.3V541.3M915.3 532.3V541.3M982.4 532.3V541.3M1049.5 532.3V541.3M1116.6 532.3V541.3M1183.7 532.3V541.3M1250.8 532.3V541.3M752.3 514.4V105.4M752.3 514.4H743.3M752.3 432.6H743.3M752.3 350.8H743.3M752.3 269H743.3M752.3 187.2H743.3M752.3 105.4H743.3" fill="none" stroke="#000" stroke-width="2.8" stroke-linecap="round"/><text transform="translate(781.1 587.8) scale(0.934 1)" font-size="35.2" text-anchor="middle">0.56</text><text transform="translate(915.3 587.8) scale(0.934 1)" font-size="35.2" text-anchor="middle">0.60</text><text transform="translate(1049.5 587.8) scale(0.934 1)" font-size="35.2" text-anchor="middle">0.64</text><text transform="translate(1183.7 587.8) scale(0.934 1)" font-size="35.2" text-anchor="middle">0.68</text><text transform="translate(721.8 514.4) rotate(-90) scale(0.934 1)" font-size="35.2" text-anchor="middle">0</text><text transform="translate(721.8 432.6) rotate(-90) scale(0.934 1)" font-size="35.2" text-anchor="middle">5</text><text transform="translate(721.8 350.8) rotate(-90) scale(0.934 1)" font-size="35.2" text-anchor="middle">10</text><text transform="translate(721.8 269) rotate(-90) scale(0.934 1)" font-size="35.2" text-anchor="middle">15</text><text transform="translate(721.8 187.2) rotate(-90) scale(0.934 1)" font-size="35.2" text-anchor="middle">20</text><text transform="translate(721.8 105.4) rotate(-90) scale(0.934 1)" font-size="35.2" text-anchor="middle">25</text><text transform="translate(1001.9 631.4) scale(0.994 1)" font-size="32.4" text-anchor="middle">Prediction Performance</text><text transform="translate(678.2 293.4) rotate(-90) scale(1.015 1)" font-size="32.4" text-anchor="middle">Density (%)</text><text transform="translate(1000.8 31.6) scale(0.9992 1)" font-size="40" font-weight="bold" text-anchor="middle">NB EFS AUC</text><text transform="translate(770.6 104.6) scale(0.924 1)" font-size="35" font-weight="bold">p = 0.054</text><text transform="translate(663 31.6) scale(0.8 1)" font-size="54" font-weight="bold">c</text></g>
<g><line x1="752.3" y1="1188.4" x2="1251.4" y2="1188.4" stroke="#bebebe" stroke-width="1.3"/><path d="M771 1187.8C772.3 1187.7 773.6 1187.6 774.9 1187.5C776.3 1187.5 777.6 1187.4 778.9 1187.3C780.2 1187.2 781.6 1187.1 782.9 1187C784.2 1186.9 785.6 1186.7 786.9 1186.6C788.3 1186.5 789.6 1186.4 790.9 1186.2C792.3 1186 793.6 1185.9 795 1185.7C796.3 1185.5 797.6 1185.3 799 1185.1C800.3 1184.9 801.6 1184.7 802.9 1184.4C804.3 1184.2 805.6 1183.9 806.9 1183.6C808.2 1183.3 809.5 1183 810.8 1182.7C812.1 1182.3 813.3 1182 814.6 1181.6C815.9 1181.2 817.1 1180.8 818.4 1180.4C819.6 1179.9 820.9 1179.4 822.1 1178.9C823.3 1178.4 824.5 1177.9 825.7 1177.3C826.9 1176.8 828.1 1176.2 829.2 1175.6C830.4 1175 831.5 1174.3 832.6 1173.6C833.8 1173 834.9 1172.3 836 1171.5C837.1 1170.8 838.2 1170.1 839.3 1169.3C840.4 1168.5 841.4 1167.7 842.5 1166.9C843.5 1166.1 844.6 1165.3 845.6 1164.4C846.6 1163.6 847.6 1162.7 848.6 1161.8C849.6 1160.9 850.6 1160 851.6 1159.1C852.5 1158.2 853.5 1157.2 854.4 1156.3C855.4 1155.3 856.3 1154.4 857.3 1153.4C858.2 1152.4 859.1 1151.4 860 1150.4C860.9 1149.4 861.8 1148.4 862.7 1147.4C863.5 1146.4 864.4 1145.3 865.3 1144.3C866.1 1143.3 867 1142.2 867.8 1141.1C868.6 1140.1 869.4 1139 870.3 1138C871.1 1136.9 871.9 1135.8 872.7 1134.7C873.5 1133.6 874.2 1132.5 875 1131.4C875.8 1130.3 876.5 1129.2 877.3 1128.1C878 1127 878.8 1125.9 879.5 1124.8C880.3 1123.6 881 1122.5 881.7 1121.4C882.4 1120.2 883.1 1119.1 883.8 1118C884.6 1116.8 885.2 1115.7 885.9 1114.5C886.6 1113.3 887.3 1112.2 888 1111C888.7 1109.8 889.3 1108.7 890 1107.5C890.6 1106.3 891.3 1105.1 891.9 1104C892.6 1102.8 893.2 1101.6 893.9 1100.4C894.5 1099.2 895.1 1098 895.8 1096.8C896.4 1095.6 897 1094.4 897.6 1093.2C898.2 1092 898.8 1090.8 899.4 1089.6C900 1088.4 900.6 1087.2 901.2 1086C901.8 1084.8 902.4 1083.6 903 1082.4C903.6 1081.2 904.2 1080 904.8 1078.8C905.3 1077.6 905.9 1076.4 906.5 1075.1C907.1 1073.9 907.6 1072.7 908.2 1071.5C908.8 1070.3 909.4 1069.1 909.9 1067.9C910.5 1066.7 911 1065.5 911.6 1064.3C912.2 1063 912.7 1061.8 913.3 1060.6C913.8 1059.4 914.4 1058.2 915 1057C915.5 1055.8 916.1 1054.6 916.6 1053.4C917.2 1052.2 917.7 1051 918.3 1049.8C918.8 1048.6 919.4 1047.4 919.9 1046.3C920.5 1045.1 921 1043.9 921.6 1042.7C922.1 1041.5 922.7 1040.3 923.2 1039.1C923.8 1037.9 924.3 1036.7 924.9 1035.5C925.4 1034.4 926 1033.2 926.5 1032C927.1 1030.8 927.6 1029.6 928.2 1028.4C928.7 1027.2 929.3 1026 929.8 1024.9C930.4 1023.7 930.9 1022.5 931.5 1021.3C932 1020.1 932.6 1018.9 933.1 1017.7C933.7 1016.6 934.2 1015.4 934.8 1014.2C935.4 1013 935.9 1011.8 936.5 1010.6C937 1009.4 937.6 1008.2 938.1 1007C938.7 1005.9 939.2 1004.7 939.8 1003.5C940.4 1002.3 940.9 1001.1 941.5 999.9C942.1 998.7 942.6 997.5 943.2 996.3C943.8 995.1 944.3 993.9 944.9 992.7C945.5 991.5 946 990.3 946.6 989.1C947.2 987.9 947.8 986.7 948.3 985.5C948.9 984.3 949.5 983.1 950.1 981.9C950.6 980.7 951.2 979.4 951.8 978.2C952.4 977 953 975.8 953.6 974.6C954.2 973.4 954.8 972.1 955.4 970.9C956 969.7 956.6 968.5 957.2 967.2C957.8 966 958.4 964.8 959 963.5C959.6 962.3 960.2 961 960.8 959.8C961.4 958.6 962 957.3 962.6 956.1C963.3 954.8 963.9 953.6 964.5 952.3C965.1 951.1 965.8 949.8 966.4 948.5C967 947.3 967.7 946 968.3 944.7C969 943.5 969.6 942.2 970.3 940.9C970.9 939.7 971.6 938.4 972.3 937.1C972.9 935.9 973.6 934.7 974.3 933.4C975 932.2 975.7 931 976.4 929.8C977.2 928.6 977.9 927.5 978.7 926.3C979.4 925.2 980.2 924.1 981 923C981.9 921.9 982.7 920.9 983.5 919.9C984.4 918.9 985.3 917.9 986.2 917C987.1 916.1 988.1 915.2 989 914.4C990 913.6 991 912.8 992.1 912.1C993.1 911.4 994.2 910.8 995.3 910.2C996.4 909.6 997.6 909.1 998.8 908.6C999.9 908.2 1001.2 907.8 1002.4 907.5C1003.6 907.2 1004.9 907 1006.2 906.8C1007.5 906.7 1008.7 906.6 1010 906.6C1011.3 906.6 1012.6 906.7 1013.8 906.9C1015.1 907.1 1016.3 907.4 1017.5 907.8C1018.7 908.2 1019.9 908.7 1021.1 909.3C1022.2 909.8 1023.3 910.5 1024.4 911.3C1025.5 912 1026.5 912.9 1027.5 913.8C1028.6 914.7 1029.5 915.7 1030.5 916.7C1031.4 917.7 1032.3 918.8 1033.2 919.9C1034.1 921.1 1034.9 922.2 1035.7 923.4C1036.5 924.6 1037.3 925.8 1038.1 927.1C1038.8 928.3 1039.5 929.5 1040.2 930.8C1040.9 932 1041.6 933.3 1042.2 934.6C1042.9 935.8 1043.5 937.1 1044.1 938.3C1044.7 939.6 1045.3 940.8 1045.9 942.1C1046.5 943.4 1047 944.6 1047.6 945.9C1048.1 947.1 1048.7 948.4 1049.2 949.6C1049.8 950.8 1050.3 952.1 1050.8 953.3C1051.3 954.6 1051.9 955.8 1052.4 957C1052.9 958.3 1053.4 959.5 1053.9 960.7C1054.4 962 1054.9 963.2 1055.4 964.4C1055.9 965.7 1056.4 966.9 1056.9 968.1C1057.4 969.3 1057.9 970.6 1058.4 971.8C1058.8 973 1059.3 974.2 1059.8 975.5C1060.3 976.7 1060.8 977.9 1061.3 979.1C1061.7 980.3 1062.2 981.6 1062.7 982.8C1063.2 984 1063.7 985.2 1064.2 986.4C1064.7 987.7 1065.2 988.9 1065.7 990.1C1066.2 991.3 1066.7 992.5 1067.2 993.8C1067.7 995 1068.2 996.2 1068.7 997.4C1069.2 998.6 1069.7 999.9 1070.2 1001.1C1070.7 1002.3 1071.2 1003.5 1071.7 1004.7C1072.2 1006 1072.7 1007.2 1073.2 1008.4C1073.7 1009.6 1074.3 1010.8 1074.8 1012.1C1075.3 1013.3 1075.8 1014.5 1076.3 1015.7C1076.8 1016.9 1077.4 1018.1 1077.9 1019.4C1078.4 1020.6 1078.9 1021.8 1079.5 1023C1080 1024.2 1080.5 1025.5 1081 1026.7C1081.6 1027.9 1082.1 1029.1 1082.6 1030.3C1083.2 1031.5 1083.7 1032.8 1084.2 1034C1084.8 1035.2 1085.3 1036.4 1085.8 1037.6C1086.4 1038.9 1086.9 1040.1 1087.5 1041.3C1088 1042.5 1088.6 1043.7 1089.1 1045C1089.6 1046.2 1090.2 1047.4 1090.7 1048.6C1091.3 1049.8 1091.8 1051.1 1092.4 1052.3C1092.9 1053.5 1093.5 1054.7 1094 1055.9C1094.6 1057.2 1095.2 1058.4 1095.7 1059.6C1096.3 1060.8 1096.8 1062.1 1097.4 1063.3C1097.9 1064.5 1098.5 1065.7 1099.1 1066.9C1099.6 1068.2 1100.2 1069.4 1100.8 1070.6C1101.3 1071.8 1101.9 1073.1 1102.5 1074.3C1103 1075.5 1103.6 1076.7 1104.2 1078C1104.7 1079.2 1105.3 1080.4 1105.9 1081.6C1106.5 1082.9 1107 1084.1 1107.6 1085.3C1108.2 1086.5 1108.8 1087.8 1109.4 1089C1109.9 1090.2 1110.5 1091.4 1111.1 1092.6C1111.7 1093.8 1112.3 1095.1 1112.9 1096.3C1113.5 1097.5 1114.1 1098.7 1114.7 1099.9C1115.3 1101.1 1116 1102.3 1116.6 1103.5C1117.2 1104.7 1117.8 1105.9 1118.5 1107.1C1119.1 1108.3 1119.7 1109.5 1120.4 1110.6C1121 1111.8 1121.7 1113 1122.3 1114.2C1123 1115.3 1123.7 1116.5 1124.3 1117.7C1125 1118.8 1125.7 1120 1126.4 1121.1C1127.1 1122.3 1127.8 1123.4 1128.5 1124.5C1129.2 1125.6 1129.9 1126.8 1130.7 1127.9C1131.4 1129 1132.1 1130.1 1132.9 1131.2C1133.6 1132.3 1134.4 1133.4 1135.2 1134.4C1135.9 1135.5 1136.7 1136.6 1137.5 1137.6C1138.3 1138.7 1139.1 1139.7 1139.9 1140.8C1140.8 1141.8 1141.6 1142.8 1142.4 1143.8C1143.3 1144.9 1144.1 1145.9 1145 1146.9C1145.9 1147.8 1146.7 1148.8 1147.6 1149.8C1148.5 1150.7 1149.5 1151.7 1150.4 1152.6C1151.3 1153.6 1152.2 1154.5 1153.2 1155.4C1154.2 1156.3 1155.1 1157.2 1156.1 1158.1C1157.1 1159 1158.1 1159.9 1159.1 1160.7C1160.1 1161.6 1161.2 1162.4 1162.2 1163.2C1163.2 1164 1164.3 1164.8 1165.4 1165.6C1166.4 1166.4 1167.5 1167.2 1168.6 1168C1169.7 1168.7 1170.8 1169.4 1172 1170.2C1173.1 1170.9 1174.2 1171.6 1175.3 1172.3C1176.5 1172.9 1177.6 1173.6 1178.8 1174.3C1180 1174.9 1181.2 1175.5 1182.3 1176.1C1183.5 1176.7 1184.7 1177.3 1185.9 1177.9C1187.2 1178.4 1188.4 1179 1189.6 1179.5C1190.8 1180 1192.1 1180.5 1193.3 1181C1194.5 1181.5 1195.8 1181.9 1197.1 1182.3C1198.3 1182.8 1199.6 1183.2 1200.9 1183.6C1202.1 1183.9 1203.4 1184.3 1204.7 1184.6C1206 1185 1207.3 1185.3 1208.6 1185.5C1209.9 1185.8 1211.2 1186.1 1212.5 1186.3C1213.9 1186.5 1215.2 1186.8 1216.5 1186.9C1217.8 1187.1 1219.2 1187.3 1220.5 1187.4C1221.8 1187.5 1223.2 1187.6 1224.5 1187.7C1225.9 1187.7 1227.2 1187.8 1228.6 1187.8C1229.9 1187.8 1231.3 1187.8 1232.6 1187.7" fill="none" stroke="#ff0000" stroke-width="6" stroke-linecap="round" stroke-linejoin="round"/><path d="M844.2 1187.6C845.6 1187.3 847 1187.2 848.4 1186.8C849.7 1186.4 851 1186 852.2 1185.5C853.5 1184.9 854.6 1184.3 855.7 1183.6C856.9 1183 857.9 1182.2 858.9 1181.4C859.9 1180.6 860.9 1179.7 861.8 1178.8C862.8 1177.9 863.6 1176.9 864.5 1175.9C865.3 1174.9 866.1 1173.8 866.9 1172.7C867.7 1171.7 868.4 1170.5 869.2 1169.4C869.9 1168.2 870.6 1167.1 871.2 1165.9C871.9 1164.7 872.5 1163.5 873.2 1162.3C873.8 1161.1 874.4 1159.9 875 1158.7C875.6 1157.5 876.2 1156.3 876.8 1155.1C877.3 1153.9 877.9 1152.6 878.4 1151.4C878.9 1150.2 879.4 1148.9 879.9 1147.7C880.5 1146.5 880.9 1145.2 881.4 1144C881.9 1142.7 882.4 1141.4 882.8 1140.2C883.3 1138.9 883.7 1137.7 884.1 1136.4C884.5 1135.1 885 1133.8 885.4 1132.6C885.8 1131.3 886.2 1130 886.6 1128.7C886.9 1127.4 887.3 1126.2 887.7 1124.9C888.1 1123.6 888.4 1122.3 888.8 1121C889.1 1119.7 889.5 1118.4 889.8 1117.1C890.2 1115.8 890.5 1114.5 890.8 1113.2C891.2 1111.9 891.5 1110.6 891.8 1109.3C892.1 1108 892.5 1106.7 892.8 1105.4C893.1 1104.1 893.4 1102.8 893.7 1101.5C894 1100.2 894.3 1098.9 894.6 1097.6C894.9 1096.3 895.2 1095 895.5 1093.7C895.8 1092.4 896.1 1091.1 896.4 1089.8C896.7 1088.5 897 1087.2 897.2 1085.9C897.5 1084.6 897.8 1083.3 898.1 1081.9C898.4 1080.6 898.6 1079.3 898.9 1078C899.2 1076.7 899.4 1075.4 899.7 1074.1C900 1072.8 900.2 1071.5 900.5 1070.2C900.7 1068.9 901 1067.5 901.2 1066.2C901.5 1064.9 901.8 1063.6 902 1062.3C902.3 1061 902.5 1059.7 902.7 1058.4C903 1057 903.2 1055.7 903.5 1054.4C903.7 1053.1 904 1051.8 904.2 1050.5C904.4 1049.2 904.7 1047.8 904.9 1046.5C905.1 1045.2 905.4 1043.9 905.6 1042.6C905.8 1041.3 906.1 1040 906.3 1038.6C906.5 1037.3 906.7 1036 907 1034.7C907.2 1033.4 907.4 1032.1 907.6 1030.7C907.9 1029.4 908.1 1028.1 908.3 1026.8C908.5 1025.5 908.8 1024.2 909 1022.8C909.2 1021.5 909.4 1020.2 909.6 1018.9C909.9 1017.6 910.1 1016.2 910.3 1014.9C910.5 1013.6 910.7 1012.3 910.9 1011C911.2 1009.7 911.4 1008.3 911.6 1007C911.8 1005.7 912 1004.4 912.2 1003.1C912.4 1001.7 912.7 1000.4 912.9 999.1C913.1 997.8 913.3 996.5 913.5 995.1C913.7 993.8 913.9 992.5 914.2 991.2C914.4 989.9 914.6 988.5 914.8 987.2C915 985.9 915.2 984.6 915.5 983.3C915.7 981.9 915.9 980.6 916.1 979.3C916.3 978 916.5 976.7 916.8 975.3C917 974 917.2 972.7 917.4 971.4C917.7 970.1 917.9 968.7 918.1 967.4C918.3 966.1 918.5 964.8 918.8 963.5C919 962.1 919.2 960.8 919.5 959.5C919.7 958.2 919.9 956.9 920.1 955.5C920.4 954.2 920.6 952.9 920.8 951.6C921.1 950.3 921.3 948.9 921.5 947.6C921.8 946.3 922 945 922.2 943.7C922.5 942.4 922.7 941 923 939.7C923.2 938.4 923.4 937.1 923.7 935.8C923.9 934.4 924.2 933.1 924.4 931.8C924.6 930.5 924.9 929.2 925.1 927.9C925.4 926.5 925.6 925.2 925.9 923.9C926.1 922.6 926.4 921.3 926.6 920C926.9 918.6 927.1 917.3 927.3 916C927.6 914.7 927.8 913.4 928.1 912.1C928.3 910.7 928.6 909.4 928.8 908.1C929.1 906.8 929.3 905.5 929.6 904.2C929.8 902.8 930.1 901.5 930.3 900.2C930.6 898.9 930.9 897.6 931.1 896.3C931.4 895 931.6 893.6 931.9 892.3C932.1 891 932.4 889.7 932.6 888.4C932.9 887.1 933.1 885.8 933.4 884.4C933.6 883.1 933.9 881.8 934.1 880.5C934.4 879.2 934.7 877.9 934.9 876.6C935.2 875.3 935.4 873.9 935.7 872.6C935.9 871.3 936.2 870 936.4 868.7C936.7 867.4 936.9 866.1 937.2 864.8C937.4 863.5 937.7 862.2 938 860.8C938.2 859.5 938.5 858.2 938.7 856.9C939 855.6 939.2 854.3 939.5 853C939.7 851.7 940 850.4 940.2 849.1C940.5 847.8 940.7 846.5 941 845.2C941.2 843.8 941.5 842.5 941.7 841.2C942 839.9 942.2 838.6 942.5 837.3C942.7 836 943 834.7 943.2 833.4C943.5 832.1 943.7 830.8 944 829.5C944.2 828.2 944.5 826.9 944.7 825.6C945 824.3 945.2 823 945.5 821.7C945.7 820.4 946 819.1 946.2 817.8C946.5 816.5 946.7 815.2 947 813.9C947.3 812.6 947.5 811.3 947.8 810C948.1 808.7 948.3 807.4 948.6 806.1C948.9 804.7 949.2 803.4 949.5 802.1C949.8 800.8 950.1 799.5 950.4 798.2C950.7 796.9 951 795.6 951.4 794.3C951.7 793 952 791.7 952.4 790.4C952.8 789.1 953.1 787.8 953.5 786.5C953.9 785.2 954.3 783.9 954.7 782.6C955.1 781.2 955.5 779.9 956 778.6C956.4 777.3 956.9 776 957.3 774.7C957.8 773.4 958.3 772 958.8 770.7C959.3 769.4 959.9 768.1 960.4 766.8C961 765.4 961.5 764.1 962.1 762.8C962.7 761.5 963.3 760.1 963.9 758.8C964.6 757.5 965.2 756.2 965.9 754.9C966.6 753.7 967.2 752.5 968 751.4C968.7 750.4 969.4 749.4 970.2 748.7C970.9 748 971.6 747.3 972.4 747C973.2 746.7 974 746.5 974.8 746.6C975.6 746.8 976.5 747.4 977.2 748C978.2 748.8 978.9 750.1 979.7 751.3C980.6 752.6 981.4 754.2 982.1 755.8C982.9 757.4 983.6 759.1 984.3 760.8C985 762.4 985.6 764 986.2 765.5C986.7 766.9 987.2 768.3 987.7 769.6C988.1 770.9 988.6 772.2 989 773.4C989.4 774.7 989.7 775.8 990.1 777C990.5 778.2 990.8 779.4 991.2 780.6C991.5 781.9 991.9 783.1 992.3 784.3C992.6 785.6 993 786.9 993.4 788.1C993.7 789.4 994.1 790.7 994.5 792C994.8 793.3 995.2 794.5 995.5 795.8C995.9 797.1 996.2 798.4 996.5 799.7C996.8 801 997.2 802.3 997.5 803.6C997.8 804.9 998.1 806.2 998.4 807.5C998.7 808.8 999 810.1 999.3 811.4C999.6 812.7 999.8 814 1000.1 815.3C1000.4 816.6 1000.6 818 1000.9 819.3C1001.2 820.6 1001.4 821.9 1001.7 823.2C1001.9 824.5 1002.2 825.8 1002.4 827.1C1002.7 828.4 1002.9 829.7 1003.1 831.1C1003.4 832.4 1003.6 833.7 1003.8 835C1004.1 836.3 1004.3 837.6 1004.5 838.9C1004.8 840.3 1005 841.6 1005.2 842.9C1005.4 844.2 1005.6 845.5 1005.9 846.8C1006.1 848.2 1006.3 849.5 1006.5 850.8C1006.7 852.1 1006.9 853.4 1007.1 854.7C1007.4 856.1 1007.6 857.4 1007.8 858.7C1008 860 1008.2 861.3 1008.4 862.7C1008.6 864 1008.8 865.3 1009.1 866.6C1009.3 867.9 1009.5 869.3 1009.7 870.6C1009.9 871.9 1010.1 873.2 1010.4 874.5C1010.6 875.9 1010.8 877.2 1011 878.5C1011.3 879.8 1011.5 881.1 1011.7 882.5C1011.9 883.8 1012.2 885.1 1012.4 886.4C1012.6 887.7 1012.9 889 1013.1 890.4C1013.3 891.7 1013.6 893 1013.8 894.3C1014 895.6 1014.3 897 1014.5 898.3C1014.8 899.6 1015 900.9 1015.2 902.2C1015.5 903.5 1015.7 904.9 1016 906.2C1016.2 907.5 1016.5 908.8 1016.7 910.1C1017 911.4 1017.2 912.8 1017.5 914.1C1017.7 915.4 1018 916.7 1018.2 918C1018.5 919.3 1018.7 920.7 1019 922C1019.2 923.3 1019.5 924.6 1019.7 925.9C1020 927.2 1020.2 928.6 1020.5 929.9C1020.8 931.2 1021 932.5 1021.3 933.8C1021.5 935.1 1021.8 936.4 1022.1 937.8C1022.3 939.1 1022.6 940.4 1022.9 941.7C1023.1 943 1023.4 944.3 1023.7 945.6C1023.9 946.9 1024.2 948.3 1024.5 949.6C1024.7 950.9 1025 952.2 1025.3 953.5C1025.6 954.8 1025.8 956.1 1026.1 957.4C1026.4 958.7 1026.7 960.1 1026.9 961.4C1027.2 962.7 1027.5 964 1027.8 965.3C1028 966.6 1028.3 967.9 1028.6 969.2C1028.9 970.5 1029.2 971.8 1029.4 973.1C1029.7 974.5 1030 975.8 1030.3 977.1C1030.6 978.4 1030.9 979.7 1031.1 981C1031.4 982.3 1031.7 983.6 1032 984.9C1032.3 986.2 1032.6 987.5 1032.9 988.8C1033.1 990.1 1033.4 991.4 1033.7 992.7C1034 994 1034.3 995.3 1034.6 996.6C1034.9 997.9 1035.2 999.2 1035.5 1000.5C1035.7 1001.8 1036 1003.1 1036.3 1004.5C1036.6 1005.8 1036.9 1007.1 1037.2 1008.4C1037.5 1009.7 1037.8 1011 1038.1 1012.3C1038.4 1013.5 1038.7 1014.8 1039 1016.1C1039.3 1017.4 1039.6 1018.7 1039.9 1020C1040.2 1021.3 1040.5 1022.6 1040.8 1023.9C1041.1 1025.2 1041.4 1026.5 1041.7 1027.8C1042 1029.1 1042.3 1030.4 1042.6 1031.7C1042.9 1033 1043.2 1034.3 1043.5 1035.6C1043.8 1036.9 1044.2 1038.2 1044.5 1039.5C1044.8 1040.8 1045.1 1042.1 1045.4 1043.3C1045.7 1044.6 1046 1045.9 1046.4 1047.2C1046.7 1048.5 1047 1049.8 1047.3 1051.1C1047.7 1052.4 1048 1053.7 1048.3 1055C1048.6 1056.3 1049 1057.6 1049.3 1058.8C1049.6 1060.1 1050 1061.4 1050.3 1062.7C1050.7 1064 1051 1065.3 1051.3 1066.6C1051.7 1067.9 1052 1069.2 1052.4 1070.4C1052.7 1071.7 1053.1 1073 1053.4 1074.3C1053.8 1075.6 1054.1 1076.9 1054.5 1078.2C1054.9 1079.5 1055.2 1080.8 1055.6 1082C1056 1083.3 1056.3 1084.6 1056.7 1085.9C1057.1 1087.2 1057.4 1088.5 1057.8 1089.8C1058.2 1091 1058.6 1092.3 1059 1093.6C1059.3 1094.9 1059.7 1096.2 1060.1 1097.5C1060.5 1098.8 1060.9 1100 1061.3 1101.3C1061.7 1102.6 1062.1 1103.9 1062.5 1105.2C1062.9 1106.5 1063.3 1107.8 1063.7 1109C1064.2 1110.3 1064.6 1111.6 1065 1112.9C1065.4 1114.2 1065.8 1115.5 1066.3 1116.7C1066.7 1118 1067.1 1119.3 1067.6 1120.6C1068 1121.9 1068.5 1123.2 1068.9 1124.5C1069.4 1125.7 1069.8 1127 1070.3 1128.3C1070.7 1129.6 1071.2 1130.9 1071.6 1132.2C1072.1 1133.4 1072.6 1134.7 1073.1 1136C1073.5 1137.3 1074 1138.6 1074.5 1139.8C1075 1141.1 1075.5 1142.4 1076 1143.6C1076.6 1144.9 1077.1 1146.1 1077.6 1147.3C1078.2 1148.6 1078.8 1149.8 1079.3 1151C1079.9 1152.2 1080.5 1153.4 1081.1 1154.6C1081.8 1155.7 1082.4 1156.9 1083.1 1158C1083.7 1159.2 1084.4 1160.3 1085.1 1161.4C1085.9 1162.5 1086.6 1163.6 1087.4 1164.6C1088.1 1165.6 1088.9 1166.7 1089.8 1167.7C1090.6 1168.7 1091.5 1169.6 1092.4 1170.6C1093.3 1171.5 1094.2 1172.4 1095.2 1173.3C1096.1 1174.1 1097.1 1175 1098.2 1175.7C1099.2 1176.5 1100.3 1177.3 1101.4 1178C1102.5 1178.8 1103.7 1179.4 1104.8 1180.1C1106 1180.7 1107.2 1181.3 1108.5 1181.9C1109.7 1182.5 1110.9 1183 1112.2 1183.5C1113.5 1184 1114.8 1184.4 1116.1 1184.8C1117.4 1185.2 1118.7 1185.6 1120 1185.9C1121.3 1186.3 1122.7 1186.6 1124 1186.8C1125.3 1187 1126.6 1187.2 1128 1187.4C1129.3 1187.5 1130.6 1187.6 1131.9 1187.7" fill="none" stroke="#0000ff" stroke-width="6" stroke-linecap="round" stroke-linejoin="round"/><rect x="752.3" y="730.2" width="499.1" height="476.1" fill="none" stroke="#000" stroke-width="2.8" stroke-linejoin="round"/><path d="M765.6 1206.3H1227.2M765.6 1206.3V1215.3M881 1206.3V1215.3M996.4 1206.3V1215.3M1111.8 1206.3V1215.3M1227.2 1206.3V1215.3M752.3 1188.4V753.6M752.3 1188.4H743.3M752.3 1079.7H743.3M752.3 971H743.3M752.3 862.3H743.3M752.3 753.6H743.3" fill="none" stroke="#000" stroke-width="2.8" stroke-linecap="round"/><text transform="translate(765.6 1261.8) scale(0.934 1)" font-size="35.2" text-anchor="middle">0.05</text><text transform="translate(881 1261.8) scale(0.934 1)" font-size="35.2" text-anchor="middle">0.10</text><text transform="translate(996.4 1261.8) scale(0.934 1)" font-size="35.2" text-anchor="middle">0.15</text><text transform="translate(1111.8 1261.8) scale(0.934 1)" font-size="35.2" text-anchor="middle">0.20</text><text transform="translate(1227.2 1261.8) scale(0.934 1)" font-size="35.2" text-anchor="middle">0.25</text><text transform="translate(721.8 1188.4) rotate(-90) scale(0.934 1)" font-size="35.2" text-anchor="middle">0</text><text transform="translate(721.8 1079.7) rotate(-90) scale(0.934 1)" font-size="35.2" text-anchor="middle">5</text><text transform="translate(721.8 971) rotate(-90) scale(0.934 1)" font-size="35.2" text-anchor="middle">10</text><text transform="translate(721.8 862.3) rotate(-90) scale(0.934 1)" font-size="35.2" text-anchor="middle">15</text><text transform="translate(721.8 753.6) rotate(-90) scale(0.934 1)" font-size="35.2" text-anchor="middle">20</text><text transform="translate(1001.9 1305.4) scale(0.994 1)" font-size="32.4" text-anchor="middle">Prediction Performance</text><text transform="translate(678.2 967.4) rotate(-90) scale(1.015 1)" font-size="32.4" text-anchor="middle">Density (%)</text><text transform="translate(1000.8 705.6) scale(0.9951 1)" font-size="40" font-weight="bold" text-anchor="middle">NB EFS MCC</text><text transform="translate(770.6 778.6) scale(0.924 1)" font-size="35" font-weight="bold">p = 0.026</text><text transform="translate(659.7 699) scale(0.92 1)" font-size="54" font-weight="bold">d</text></g>
<g><line x1="1401.3" y1="515.4" x2="1900.4" y2="515.4" stroke="#bebebe" stroke-width="1.3"/><path d="M1420.3 513.5C1421.6 513.2 1422.8 512.9 1424.1 512.5C1425.4 512.2 1426.7 511.9 1427.9 511.5C1429.2 511.2 1430.5 510.8 1431.8 510.5C1433.1 510.1 1434.4 509.8 1435.7 509.4C1437 509 1438.3 508.7 1439.6 508.3C1440.9 507.9 1442.2 507.5 1443.5 507.1C1444.8 506.7 1446.1 506.2 1447.4 505.8C1448.6 505.3 1449.9 504.9 1451.2 504.4C1452.4 503.9 1453.7 503.5 1454.9 502.9C1456.2 502.4 1457.4 501.9 1458.6 501.3C1459.8 500.8 1461 500.2 1462.2 499.6C1463.4 499 1464.5 498.4 1465.7 497.7C1466.8 497.1 1467.9 496.4 1469 495.7C1470.1 495 1471.2 494.3 1472.3 493.5C1473.3 492.8 1474.3 492 1475.4 491.1C1476.4 490.3 1477.3 489.5 1478.3 488.6C1479.2 487.7 1480.2 486.8 1481.1 485.9C1482 485 1482.9 484 1483.8 483.1C1484.7 482.1 1485.5 481.1 1486.4 480.1C1487.3 479.1 1488.1 478 1488.9 477C1489.7 476 1490.5 474.9 1491.3 473.8C1492.2 472.7 1492.9 471.6 1493.7 470.5C1494.5 469.4 1495.3 468.3 1496.1 467.2C1496.8 466.1 1497.6 464.9 1498.4 463.8C1499.1 462.6 1499.9 461.5 1500.6 460.3C1501.4 459.2 1502.2 458 1502.9 456.8C1503.7 455.7 1504.4 454.5 1505.2 453.3C1506 452.2 1506.7 451 1507.5 449.8C1508.3 448.7 1509.1 447.5 1509.9 446.4C1510.6 445.2 1511.4 444.1 1512.3 443C1513.1 441.9 1513.9 440.8 1514.8 439.8C1515.6 438.7 1516.5 437.7 1517.4 436.7C1518.2 435.7 1519.2 434.7 1520.1 433.8C1521 432.8 1522 431.9 1523 431.1C1523.9 430.3 1524.9 429.5 1526 428.7C1527 428 1528.1 427.3 1529.2 426.7C1530.3 426 1531.5 425.5 1532.6 425C1533.8 424.5 1535 424 1536.3 423.7C1537.5 423.3 1538.8 423.1 1540.1 422.9C1541.4 422.7 1542.7 422.6 1544 422.7C1545.3 422.7 1546.6 422.9 1547.9 423.2C1549.2 423.5 1550.5 423.9 1551.9 424.4C1553.2 424.8 1554.5 425.4 1555.8 425.9C1557.1 426.4 1558.4 427 1559.7 427.4C1561 427.9 1562.4 428.3 1563.7 428.6C1565 428.9 1566.3 429.1 1567.6 429.2C1568.9 429.3 1570.2 429.3 1571.4 429.2C1572.7 429.2 1574 429 1575.2 428.7C1576.4 428.5 1577.6 428.1 1578.8 427.7C1580 427.3 1581.1 426.8 1582.3 426.2C1583.4 425.6 1584.5 425 1585.5 424.3C1586.5 423.6 1587.5 422.8 1588.5 422C1589.4 421.2 1590.3 420.3 1591.2 419.4C1592.1 418.4 1592.9 417.4 1593.7 416.4C1594.4 415.4 1595.2 414.3 1595.9 413.2C1596.6 412.1 1597.2 411 1597.9 409.8C1598.5 408.6 1599.1 407.4 1599.7 406.2C1600.3 405 1600.9 403.7 1601.4 402.5C1601.9 401.2 1602.5 399.9 1603 398.7C1603.5 397.4 1604 396.1 1604.5 394.8C1605 393.5 1605.4 392.2 1605.9 390.9C1606.4 389.6 1606.8 388.3 1607.3 387C1607.8 385.7 1608.2 384.4 1608.7 383.1C1609.1 381.8 1609.5 380.5 1610 379.2C1610.4 377.9 1610.8 376.6 1611.3 375.4C1611.7 374.1 1612.1 372.8 1612.5 371.5C1612.9 370.2 1613.3 368.9 1613.7 367.6C1614.1 366.3 1614.5 365 1614.9 363.7C1615.2 362.4 1615.6 361.1 1616 359.8C1616.4 358.6 1616.7 357.3 1617.1 356C1617.5 354.7 1617.8 353.4 1618.2 352.1C1618.5 350.8 1618.9 349.5 1619.2 348.2C1619.6 346.9 1619.9 345.6 1620.2 344.3C1620.6 343.1 1620.9 341.8 1621.2 340.5C1621.6 339.2 1621.9 337.9 1622.2 336.6C1622.5 335.3 1622.8 334 1623.2 332.7C1623.5 331.4 1623.8 330.1 1624.1 328.9C1624.4 327.6 1624.7 326.3 1625 325C1625.3 323.7 1625.6 322.4 1625.9 321.1C1626.2 319.8 1626.4 318.5 1626.7 317.2C1627 315.9 1627.3 314.6 1627.6 313.3C1627.9 312 1628.1 310.8 1628.4 309.5C1628.7 308.2 1629 306.9 1629.2 305.6C1629.5 304.3 1629.8 303 1630 301.7C1630.3 300.4 1630.6 299.1 1630.8 297.8C1631.1 296.5 1631.4 295.2 1631.6 293.9C1631.9 292.6 1632.2 291.3 1632.4 290C1632.7 288.7 1632.9 287.4 1633.2 286.1C1633.5 284.8 1633.7 283.5 1634 282.2C1634.2 280.9 1634.5 279.6 1634.7 278.3C1635 277 1635.2 275.7 1635.5 274.4C1635.8 273.1 1636 271.8 1636.3 270.5C1636.5 269.2 1636.8 267.9 1637 266.6C1637.3 265.3 1637.5 264 1637.8 262.7C1638.1 261.4 1638.3 260.1 1638.6 258.8C1638.8 257.4 1639.1 256.1 1639.3 254.8C1639.6 253.5 1639.9 252.2 1640.1 250.9C1640.4 249.6 1640.6 248.3 1640.9 247C1641.2 245.7 1641.4 244.3 1641.7 243C1642 241.7 1642.2 240.4 1642.5 239.1C1642.8 237.8 1643 236.5 1643.3 235.1C1643.6 233.8 1643.8 232.5 1644.1 231.2C1644.4 229.9 1644.7 228.6 1644.9 227.2C1645.2 225.9 1645.5 224.6 1645.7 223.3C1646 222 1646.3 220.7 1646.6 219.3C1646.9 218 1647.1 216.7 1647.4 215.4C1647.7 214.1 1648 212.7 1648.3 211.4C1648.5 210.1 1648.8 208.8 1649.1 207.5C1649.4 206.2 1649.7 204.8 1650 203.5C1650.2 202.2 1650.5 200.9 1650.8 199.6C1651.1 198.2 1651.4 196.9 1651.7 195.6C1652 194.3 1652.3 193 1652.6 191.7C1652.8 190.3 1653.1 189 1653.4 187.7C1653.7 186.4 1654 185.1 1654.3 183.8C1654.6 182.5 1654.9 181.1 1655.2 179.8C1655.5 178.5 1655.8 177.2 1656.1 175.9C1656.4 174.6 1656.7 173.3 1657 172C1657.3 170.6 1657.6 169.3 1658 168C1658.3 166.7 1658.6 165.4 1658.9 164.1C1659.2 162.8 1659.5 161.5 1659.8 160.2C1660.1 158.9 1660.4 157.6 1660.7 156.3C1661 155 1661.3 153.7 1661.6 152.4C1661.9 151.1 1662.2 149.8 1662.5 148.5C1662.8 147.3 1663.1 146 1663.4 144.7C1663.7 143.4 1664 142.1 1664.3 140.8C1664.6 139.6 1664.9 138.3 1665.2 137C1665.5 135.8 1665.8 134.5 1666.1 133.2C1666.4 132 1666.7 130.7 1667 129.5C1667.3 128.2 1667.6 127 1667.9 125.7C1668.2 124.4 1668.5 123.2 1668.8 121.9C1669.1 120.7 1669.4 119.4 1669.8 118.2C1670.1 116.9 1670.5 115.7 1670.9 114.4C1671.3 113.1 1671.7 111.9 1672.1 110.6C1672.5 109.3 1672.9 108.1 1673.4 106.8C1673.9 105.5 1674.4 104.2 1674.9 102.9C1675.5 101.6 1676 100.3 1676.6 99C1677.3 97.7 1677.9 96.3 1678.6 95C1679.3 93.7 1680 92.3 1680.7 91C1681.5 89.7 1682.3 88.3 1683.1 87C1684 85.7 1684.8 84.5 1685.7 83.3C1686.6 82.1 1687.5 81 1688.4 79.9C1689.4 78.9 1690.3 77.9 1691.3 77.1C1692.2 76.3 1693.2 75.5 1694.2 74.9C1695.2 74.4 1696.2 73.9 1697.2 73.6C1698.2 73.3 1699.2 73.2 1700.2 73.3C1701.2 73.3 1702.2 73.6 1703.2 74C1704.2 74.4 1705.1 75 1706.1 75.7C1707.1 76.4 1708 77.2 1708.9 78.1C1709.9 79 1710.8 80.1 1711.7 81.1C1712.6 82.2 1713.5 83.4 1714.3 84.6C1715.1 85.8 1716 87.1 1716.7 88.4C1717.5 89.7 1718.3 91 1719 92.3C1719.7 93.6 1720.4 94.9 1721.1 96.3C1721.7 97.5 1722.3 98.8 1722.9 100.2C1723.5 101.4 1724 102.7 1724.6 104C1725.1 105.3 1725.6 106.6 1726 107.9C1726.5 109.2 1727 110.4 1727.4 111.7C1727.8 113 1728.2 114.3 1728.6 115.5C1729 116.8 1729.4 118.1 1729.7 119.4C1730.1 120.6 1730.4 121.9 1730.7 123.2C1731.1 124.4 1731.4 125.7 1731.7 127C1732 128.3 1732.3 129.5 1732.6 130.8C1732.9 132.1 1733.1 133.4 1733.4 134.6C1733.7 135.9 1734 137.2 1734.3 138.5C1734.6 139.7 1734.8 141 1735.1 142.3C1735.4 143.6 1735.7 144.9 1736 146.2C1736.2 147.5 1736.5 148.8 1736.8 150C1737.1 151.3 1737.4 152.6 1737.6 153.9C1737.9 155.2 1738.2 156.5 1738.5 157.8C1738.7 159.1 1739 160.4 1739.3 161.7C1739.6 163 1739.8 164.3 1740.1 165.6C1740.4 166.9 1740.7 168.2 1740.9 169.6C1741.2 170.9 1741.5 172.2 1741.8 173.5C1742 174.8 1742.3 176.1 1742.6 177.4C1742.8 178.7 1743.1 180 1743.4 181.4C1743.6 182.7 1743.9 184 1744.2 185.3C1744.5 186.6 1744.7 187.9 1745 189.3C1745.3 190.6 1745.5 191.9 1745.8 193.2C1746.1 194.5 1746.3 195.9 1746.6 197.2C1746.8 198.5 1747.1 199.8 1747.4 201.1C1747.6 202.5 1747.9 203.8 1748.2 205.1C1748.4 206.4 1748.7 207.8 1748.9 209.1C1749.2 210.4 1749.5 211.7 1749.7 213C1750 214.4 1750.2 215.7 1750.5 217C1750.8 218.3 1751 219.7 1751.3 221C1751.5 222.3 1751.8 223.6 1752 225C1752.3 226.3 1752.6 227.6 1752.8 228.9C1753.1 230.2 1753.3 231.6 1753.6 232.9C1753.8 234.2 1754.1 235.5 1754.3 236.8C1754.6 238.2 1754.8 239.5 1755.1 240.8C1755.3 242.1 1755.6 243.4 1755.8 244.8C1756.1 246.1 1756.3 247.4 1756.6 248.7C1756.8 250 1757.1 251.3 1757.3 252.7C1757.6 254 1757.8 255.3 1758 256.6C1758.3 257.9 1758.5 259.2 1758.8 260.5C1759 261.9 1759.3 263.2 1759.5 264.5C1759.8 265.8 1760 267.1 1760.2 268.4C1760.5 269.7 1760.7 271 1761 272.3C1761.2 273.6 1761.5 275 1761.7 276.3C1761.9 277.6 1762.2 278.9 1762.4 280.2C1762.7 281.5 1762.9 282.8 1763.1 284.1C1763.4 285.4 1763.6 286.7 1763.9 288C1764.1 289.3 1764.4 290.6 1764.6 291.9C1764.8 293.3 1765.1 294.6 1765.3 295.9C1765.6 297.2 1765.8 298.5 1766.1 299.8C1766.3 301.1 1766.6 302.4 1766.8 303.7C1767 305 1767.3 306.3 1767.5 307.6C1767.8 308.9 1768 310.2 1768.3 311.5C1768.5 312.8 1768.8 314.1 1769 315.4C1769.3 316.7 1769.5 318 1769.8 319.3C1770 320.6 1770.3 321.9 1770.5 323.2C1770.8 324.5 1771 325.8 1771.3 327.2C1771.5 328.5 1771.8 329.8 1772 331.1C1772.3 332.4 1772.5 333.7 1772.8 335C1773.1 336.3 1773.3 337.6 1773.6 338.9C1773.8 340.2 1774.1 341.5 1774.4 342.8C1774.6 344.1 1774.9 345.4 1775.1 346.7C1775.4 348 1775.7 349.3 1775.9 350.6C1776.2 351.9 1776.5 353.2 1776.7 354.5C1777 355.8 1777.3 357.1 1777.5 358.4C1777.8 359.7 1778.1 361.1 1778.4 362.4C1778.6 363.7 1778.9 365 1779.2 366.3C1779.5 367.6 1779.8 368.9 1780 370.2C1780.3 371.5 1780.6 372.8 1780.9 374.1C1781.2 375.4 1781.5 376.7 1781.7 378C1782 379.3 1782.3 380.7 1782.6 382C1782.9 383.3 1783.2 384.6 1783.5 385.9C1783.8 387.2 1784.1 388.5 1784.4 389.8C1784.7 391.1 1785 392.5 1785.3 393.8C1785.6 395.1 1785.9 396.4 1786.2 397.7C1786.5 399 1786.8 400.3 1787.2 401.6C1787.5 403 1787.8 404.3 1788.1 405.6C1788.4 406.9 1788.7 408.2 1789.1 409.5C1789.4 410.9 1789.7 412.2 1790 413.5C1790.4 414.8 1790.7 416.1 1791 417.5C1791.4 418.8 1791.7 420.1 1792 421.4C1792.4 422.7 1792.7 424.1 1793.1 425.4C1793.4 426.7 1793.8 428 1794.1 429.4C1794.5 430.7 1794.8 432 1795.2 433.3C1795.5 434.6 1795.9 435.9 1796.3 437.3C1796.7 438.6 1797.1 439.9 1797.5 441.2C1797.9 442.5 1798.3 443.8 1798.7 445.1C1799.1 446.4 1799.5 447.6 1800 448.9C1800.4 450.2 1800.8 451.5 1801.3 452.7C1801.8 454 1802.2 455.2 1802.7 456.5C1803.2 457.7 1803.7 459 1804.2 460.2C1804.7 461.4 1805.3 462.6 1805.8 463.8C1806.4 465 1806.9 466.2 1807.5 467.4C1808.1 468.6 1808.7 469.7 1809.3 470.9C1810 472 1810.6 473.2 1811.3 474.3C1811.9 475.4 1812.6 476.5 1813.3 477.6C1814 478.7 1814.8 479.8 1815.5 480.8C1816.3 481.9 1817 482.9 1817.8 483.9C1818.6 484.9 1819.5 485.9 1820.3 486.9C1821.2 487.9 1822 488.8 1822.9 489.8C1823.8 490.7 1824.8 491.6 1825.7 492.5C1826.7 493.4 1827.7 494.3 1828.7 495.1C1829.7 496 1830.7 496.8 1831.8 497.6C1832.9 498.4 1833.9 499.1 1835.1 499.9C1836.2 500.6 1837.3 501.4 1838.4 502C1839.6 502.7 1840.8 503.4 1842 504C1843.2 504.7 1844.4 505.3 1845.6 505.9C1846.8 506.4 1848 507 1849.3 507.5C1850.5 508 1851.8 508.5 1853.1 509C1854.4 509.4 1855.7 509.9 1857 510.3C1858.3 510.7 1859.6 511 1860.9 511.3C1862.2 511.7 1863.5 512 1864.8 512.2C1866.2 512.5 1867.5 512.7 1868.8 512.9C1870.1 513.1 1871.5 513.2 1872.8 513.3C1874.1 513.4 1875.5 513.5 1876.8 513.5C1878.1 513.6 1879.5 513.5 1880.8 513.5" fill="none" stroke="#ff0000" stroke-width="6" stroke-linecap="round" stroke-linejoin="round"/><path d="M1424.2 514.5C1425.5 514.4 1426.8 514.4 1428.1 514.4C1429.4 514.3 1430.8 514.3 1432.1 514.2C1433.4 514.1 1434.8 514 1436.1 513.9C1437.4 513.7 1438.8 513.6 1440.1 513.4C1441.5 513.2 1442.8 513.1 1444.2 512.8C1445.5 512.6 1446.9 512.4 1448.2 512.1C1449.5 511.8 1450.9 511.6 1452.2 511.2C1453.5 510.9 1454.8 510.6 1456.1 510.2C1457.4 509.8 1458.7 509.4 1460 509C1461.2 508.5 1462.5 508 1463.7 507.5C1465 507 1466.2 506.5 1467.4 505.9C1468.6 505.3 1469.7 504.7 1470.9 504.1C1472 503.4 1473.2 502.7 1474.2 502C1475.3 501.3 1476.4 500.5 1477.4 499.7C1478.5 498.9 1479.5 498.1 1480.5 497.2C1481.5 496.4 1482.4 495.5 1483.4 494.5C1484.3 493.6 1485.2 492.7 1486.1 491.7C1487 490.7 1487.9 489.7 1488.8 488.7C1489.7 487.7 1490.5 486.7 1491.3 485.6C1492.2 484.6 1493 483.5 1493.8 482.4C1494.6 481.4 1495.4 480.3 1496.2 479.2C1496.9 478.1 1497.7 477 1498.4 475.9C1499.2 474.8 1499.9 473.6 1500.7 472.5C1501.4 471.4 1502.1 470.3 1502.9 469.1C1503.6 468 1504.3 466.9 1505 465.7C1505.7 464.6 1506.4 463.5 1507 462.3C1507.7 461.2 1508.4 460 1509 458.8C1509.7 457.7 1510.4 456.5 1511 455.4C1511.6 454.2 1512.3 453 1512.9 451.9C1513.5 450.7 1514.2 449.5 1514.8 448.3C1515.4 447.1 1516 446 1516.6 444.8C1517.2 443.6 1517.8 442.4 1518.3 441.2C1518.9 440 1519.5 438.8 1520 437.6C1520.6 436.4 1521.2 435.2 1521.7 434C1522.3 432.8 1522.8 431.6 1523.3 430.3C1523.9 429.1 1524.4 427.9 1524.9 426.7C1525.5 425.5 1526 424.2 1526.5 423C1527 421.8 1527.5 420.5 1528 419.3C1528.5 418.1 1529 416.8 1529.5 415.6C1530 414.4 1530.4 413.1 1530.9 411.9C1531.4 410.6 1531.9 409.4 1532.3 408.1C1532.8 406.9 1533.2 405.6 1533.7 404.4C1534.1 403.1 1534.6 401.9 1535 400.6C1535.5 399.4 1535.9 398.1 1536.3 396.8C1536.8 395.6 1537.2 394.3 1537.6 393C1538 391.8 1538.5 390.5 1538.9 389.2C1539.3 388 1539.7 386.7 1540.1 385.4C1540.5 384.2 1540.9 382.9 1541.3 381.6C1541.7 380.3 1542.1 379.1 1542.5 377.8C1542.9 376.5 1543.3 375.2 1543.7 373.9C1544.1 372.7 1544.4 371.4 1544.8 370.1C1545.2 368.8 1545.6 367.5 1546 366.2C1546.3 365 1546.7 363.7 1547.1 362.4C1547.4 361.1 1547.8 359.8 1548.2 358.5C1548.5 357.2 1548.9 355.9 1549.3 354.7C1549.6 353.4 1550 352.1 1550.3 350.8C1550.7 349.5 1551 348.2 1551.4 346.9C1551.7 345.6 1552.1 344.3 1552.4 343C1552.8 341.8 1553.1 340.5 1553.5 339.2C1553.8 337.9 1554.2 336.6 1554.5 335.3C1554.9 334 1555.2 332.7 1555.6 331.4C1555.9 330.1 1556.3 328.8 1556.6 327.5C1557 326.3 1557.3 325 1557.7 323.7C1558 322.4 1558.3 321.1 1558.7 319.8C1559 318.5 1559.4 317.2 1559.7 315.9C1560.1 314.6 1560.4 313.3 1560.8 312.1C1561.1 310.8 1561.5 309.5 1561.8 308.2C1562.2 306.9 1562.5 305.6 1562.9 304.3C1563.2 303 1563.6 301.7 1564 300.5C1564.3 299.2 1564.7 297.9 1565 296.6C1565.4 295.3 1565.8 294 1566.1 292.8C1566.5 291.5 1566.9 290.2 1567.2 288.9C1567.6 287.6 1568 286.4 1568.4 285.1C1568.7 283.8 1569.1 282.5 1569.5 281.3C1569.9 280 1570.3 278.7 1570.6 277.4C1571 276.2 1571.4 274.9 1571.8 273.6C1572.2 272.3 1572.6 271.1 1573 269.8C1573.4 268.5 1573.8 267.3 1574.2 266C1574.7 264.8 1575.1 263.5 1575.5 262.2C1575.9 261 1576.3 259.7 1576.8 258.5C1577.2 257.2 1577.6 255.9 1578.1 254.7C1578.5 253.4 1578.9 252.2 1579.4 250.9C1579.8 249.7 1580.3 248.4 1580.8 247.2C1581.2 246 1581.7 244.7 1582.1 243.5C1582.6 242.2 1583.1 241 1583.6 239.8C1584.1 238.5 1584.5 237.3 1585 236.1C1585.5 234.8 1586 233.6 1586.5 232.4C1587 231.2 1587.6 229.9 1588.1 228.7C1588.6 227.5 1589.1 226.3 1589.7 225.1C1590.2 223.8 1590.7 222.6 1591.3 221.4C1591.8 220.2 1592.4 219 1593 217.8C1593.5 216.6 1594.1 215.4 1594.7 214.2C1595.3 213 1595.8 211.8 1596.4 210.6C1597 209.5 1597.6 208.3 1598.3 207.1C1598.9 205.9 1599.5 204.7 1600.1 203.6C1600.8 202.4 1601.4 201.2 1602 200.1C1602.7 198.9 1603.4 197.8 1604 196.6C1604.7 195.4 1605.4 194.3 1606.1 193.2C1606.7 192 1607.4 190.9 1608.2 189.7C1608.9 188.6 1609.6 187.5 1610.3 186.4C1611 185.2 1611.8 184.1 1612.5 183C1613.3 181.9 1614.1 180.8 1614.9 179.7C1615.6 178.6 1616.4 177.5 1617.3 176.4C1618.1 175.3 1618.9 174.2 1619.8 173.1C1620.7 172.1 1621.5 171 1622.4 169.9C1623.4 168.8 1624.3 167.8 1625.2 166.7C1626.2 165.7 1627.2 164.6 1628.1 163.6C1629.1 162.6 1630.2 161.5 1631.2 160.5C1632.3 159.5 1633.3 158.5 1634.4 157.6C1635.5 156.7 1636.6 155.7 1637.8 154.9C1638.9 154 1640 153.2 1641.2 152.4C1642.4 151.6 1643.5 150.9 1644.7 150.2C1645.9 149.6 1647.1 149 1648.3 148.4C1649.5 147.9 1650.7 147.5 1651.9 147.1C1653.1 146.8 1654.3 146.5 1655.5 146.3C1656.7 146.2 1657.9 146.1 1659.1 146.1C1660.2 146.2 1661.4 146.3 1662.5 146.6C1663.7 146.8 1664.8 147.2 1665.9 147.7C1667 148.1 1668.1 148.7 1669.2 149.3C1670.3 150 1671.3 150.7 1672.3 151.5C1673.4 152.3 1674.4 153.2 1675.3 154.1C1676.3 155 1677.3 156 1678.2 157C1679.2 158 1680.1 159.1 1681 160.2C1681.9 161.3 1682.8 162.4 1683.6 163.5C1684.4 164.7 1685.3 165.8 1686.1 167C1686.8 168.2 1687.6 169.3 1688.4 170.5C1689.1 171.7 1689.8 172.9 1690.5 174.1C1691.2 175.3 1691.9 176.5 1692.5 177.7C1693.2 178.9 1693.8 180.1 1694.4 181.3C1695 182.6 1695.6 183.8 1696.2 185C1696.8 186.3 1697.3 187.5 1697.9 188.7C1698.4 190 1698.9 191.3 1699.4 192.5C1700 193.8 1700.5 195 1700.9 196.3C1701.4 197.6 1701.9 198.8 1702.4 200.1C1702.8 201.4 1703.3 202.7 1703.7 203.9C1704.1 205.2 1704.6 206.5 1705 207.8C1705.4 209.1 1705.8 210.4 1706.2 211.6C1706.6 212.9 1707 214.2 1707.4 215.5C1707.8 216.8 1708.2 218.1 1708.6 219.4C1709 220.7 1709.4 222 1709.8 223.2C1710.2 224.5 1710.6 225.8 1710.9 227.1C1711.3 228.4 1711.7 229.7 1712.1 231C1712.5 232.3 1712.8 233.5 1713.2 234.8C1713.6 236.1 1714 237.4 1714.3 238.7C1714.7 240 1715.1 241.2 1715.4 242.5C1715.8 243.8 1716.2 245.1 1716.5 246.4C1716.9 247.7 1717.3 248.9 1717.6 250.2C1718 251.5 1718.4 252.8 1718.7 254.1C1719.1 255.3 1719.4 256.6 1719.8 257.9C1720.1 259.2 1720.5 260.5 1720.9 261.7C1721.2 263 1721.6 264.3 1721.9 265.6C1722.3 266.9 1722.6 268.1 1723 269.4C1723.3 270.7 1723.7 272 1724 273.3C1724.4 274.5 1724.7 275.8 1725.1 277.1C1725.4 278.4 1725.8 279.7 1726.1 280.9C1726.5 282.2 1726.8 283.5 1727.2 284.8C1727.5 286.1 1727.8 287.3 1728.2 288.6C1728.5 289.9 1728.9 291.2 1729.2 292.4C1729.6 293.7 1729.9 295 1730.3 296.3C1730.6 297.6 1730.9 298.8 1731.3 300.1C1731.6 301.4 1732 302.7 1732.3 304C1732.7 305.2 1733 306.5 1733.4 307.8C1733.7 309.1 1734 310.4 1734.4 311.6C1734.7 312.9 1735.1 314.2 1735.4 315.5C1735.8 316.8 1736.1 318.1 1736.4 319.3C1736.8 320.6 1737.1 321.9 1737.5 323.2C1737.8 324.5 1738.2 325.7 1738.5 327C1738.9 328.3 1739.2 329.6 1739.6 330.9C1739.9 332.2 1740.3 333.5 1740.6 334.7C1741 336 1741.3 337.3 1741.7 338.6C1742 339.9 1742.4 341.2 1742.7 342.5C1743.1 343.8 1743.4 345 1743.8 346.3C1744.1 347.6 1744.5 348.9 1744.8 350.2C1745.2 351.5 1745.6 352.8 1745.9 354.1C1746.3 355.4 1746.6 356.7 1747 357.9C1747.4 359.2 1747.7 360.5 1748.1 361.8C1748.5 363.1 1748.8 364.4 1749.2 365.7C1749.6 367 1750 368.3 1750.3 369.5C1750.7 370.8 1751.1 372.1 1751.5 373.4C1751.9 374.7 1752.3 376 1752.6 377.3C1753 378.6 1753.4 379.8 1753.8 381.1C1754.2 382.4 1754.6 383.7 1755 385C1755.4 386.2 1755.9 387.5 1756.3 388.8C1756.7 390.1 1757.1 391.4 1757.5 392.6C1758 393.9 1758.4 395.2 1758.8 396.4C1759.3 397.7 1759.7 399 1760.1 400.2C1760.6 401.5 1761 402.8 1761.5 404C1761.9 405.3 1762.4 406.5 1762.9 407.8C1763.3 409.1 1763.8 410.3 1764.3 411.6C1764.8 412.8 1765.2 414 1765.7 415.3C1766.2 416.5 1766.7 417.8 1767.2 419C1767.7 420.2 1768.2 421.5 1768.8 422.7C1769.3 423.9 1769.8 425.2 1770.3 426.4C1770.9 427.6 1771.4 428.8 1772 430.1C1772.5 431.3 1773.1 432.5 1773.6 433.7C1774.2 434.9 1774.8 436.1 1775.3 437.3C1775.9 438.5 1776.5 439.7 1777.1 440.9C1777.7 442.1 1778.3 443.3 1778.9 444.4C1779.5 445.6 1780.1 446.8 1780.8 448C1781.4 449.1 1782 450.3 1782.7 451.5C1783.3 452.6 1784 453.8 1784.7 454.9C1785.3 456.1 1786 457.2 1786.7 458.4C1787.4 459.5 1788.1 460.6 1788.8 461.8C1789.5 462.9 1790.2 464 1791 465.1C1791.7 466.3 1792.4 467.4 1793.2 468.5C1793.9 469.6 1794.7 470.7 1795.5 471.8C1796.3 472.9 1797 474 1797.8 475C1798.6 476.1 1799.4 477.2 1800.3 478.2C1801.1 479.3 1801.9 480.4 1802.8 481.4C1803.6 482.4 1804.5 483.5 1805.4 484.5C1806.2 485.5 1807.1 486.5 1808 487.4C1808.9 488.4 1809.9 489.4 1810.8 490.3C1811.7 491.2 1812.7 492.1 1813.7 493C1814.6 493.9 1815.6 494.8 1816.6 495.6C1817.6 496.5 1818.7 497.3 1819.7 498.1C1820.7 498.9 1821.8 499.6 1822.9 500.4C1824 501.1 1825.1 501.8 1826.2 502.4C1827.3 503.1 1828.5 503.7 1829.6 504.3C1830.8 504.9 1832 505.5 1833.2 506C1834.4 506.5 1835.7 507 1836.9 507.4C1838.2 507.9 1839.4 508.3 1840.7 508.6C1842 509 1843.3 509.3 1844.6 509.7C1846 510 1847.3 510.2 1848.6 510.5C1850 510.8 1851.3 511 1852.7 511.2C1854.1 511.4 1855.4 511.6 1856.8 511.8C1858.2 511.9 1859.5 512.1 1860.9 512.2C1862.3 512.4 1863.6 512.5 1865 512.6C1866.3 512.7 1867.7 512.9 1869 513C1870.4 513.1 1871.7 513.2 1873 513.3C1874.4 513.4 1875.7 513.5 1877 513.6C1878.3 513.7 1879.5 513.8 1880.8 513.9" fill="none" stroke="#0000ff" stroke-width="6" stroke-linecap="round" stroke-linejoin="round"/><rect x="1401.3" y="56.2" width="499.1" height="476.1" fill="none" stroke="#000" stroke-width="2.8" stroke-linejoin="round"/><path d="M1430 532.3H1834M1430 532.3V541.3M1510.8 532.3V541.3M1591.6 532.3V541.3M1672.4 532.3V541.3M1753.2 532.3V541.3M1834 532.3V541.3M1401.3 515.4V86.7M1401.3 515.4H1392.3M1401.3 429.6H1392.3M1401.3 343.9H1392.3M1401.3 258.1H1392.3M1401.3 172.4H1392.3M1401.3 86.7H1392.3" fill="none" stroke="#000" stroke-width="2.8" stroke-linecap="round"/><text transform="translate(1430 587.8) scale(0.934 1)" font-size="35.2" text-anchor="middle">0.56</text><text transform="translate(1591.6 587.8) scale(0.934 1)" font-size="35.2" text-anchor="middle">0.60</text><text transform="translate(1753.2 587.8) scale(0.934 1)" font-size="35.2" text-anchor="middle">0.64</text><text transform="translate(1370.8 515.4) rotate(-90) scale(0.934 1)" font-size="35.2" text-anchor="middle">0</text><text transform="translate(1370.8 429.6) rotate(-90) scale(0.934 1)" font-size="35.2" text-anchor="middle">5</text><text transform="translate(1370.8 343.9) rotate(-90) scale(0.934 1)" font-size="35.2" text-anchor="middle">10</text><text transform="translate(1370.8 258.1) rotate(-90) scale(0.934 1)" font-size="35.2" text-anchor="middle">15</text><text transform="translate(1370.8 172.4) rotate(-90) scale(0.934 1)" font-size="35.2" text-anchor="middle">20</text><text transform="translate(1370.8 86.7) rotate(-90) scale(0.934 1)" font-size="35.2" text-anchor="middle">25</text><text transform="translate(1650.8 631.4) scale(0.994 1)" font-size="32.4" text-anchor="middle">Prediction Performance</text><text transform="translate(1327.2 293.4) rotate(-90) scale(1.015 1)" font-size="32.4" text-anchor="middle">Density (%)</text><text transform="translate(1650 31.6) scale(0.9856 1)" font-size="40" font-weight="bold" text-anchor="middle">LUAD Survival AUC</text><text transform="translate(1419.6 104.6) scale(0.924 1)" font-size="35" font-weight="bold">p = 0.063</text><text transform="translate(1305.6 31.5) scale(0.96 1)" font-size="54" font-weight="bold">e</text></g>
<g><line x1="1401.3" y1="1189.4" x2="1900.4" y2="1189.4" stroke="#bebebe" stroke-width="1.3"/><path d="M1421 1187.7C1422.4 1187.7 1423.8 1187.7 1425.2 1187.7C1426.6 1187.6 1427.9 1187.5 1429.3 1187.4C1430.7 1187.3 1432 1187.2 1433.4 1187C1434.7 1186.9 1436 1186.7 1437.3 1186.5C1438.6 1186.2 1439.9 1186 1441.2 1185.8C1442.5 1185.5 1443.8 1185.2 1445.1 1184.9C1446.3 1184.6 1447.6 1184.3 1448.8 1183.9C1450.1 1183.6 1451.3 1183.2 1452.6 1182.8C1453.8 1182.5 1455 1182.1 1456.2 1181.6C1457.5 1181.2 1458.7 1180.8 1459.9 1180.3C1461.1 1179.9 1462.3 1179.4 1463.5 1178.9C1464.7 1178.4 1465.9 1177.9 1467.1 1177.4C1468.3 1176.9 1469.5 1176.4 1470.7 1175.8C1471.9 1175.3 1473 1174.7 1474.2 1174.2C1475.4 1173.6 1476.6 1173 1477.8 1172.5C1479 1171.9 1480.2 1171.3 1481.3 1170.7C1482.5 1170.1 1483.7 1169.5 1484.9 1168.8C1486.1 1168.2 1487.3 1167.6 1488.5 1167C1489.7 1166.3 1490.9 1165.7 1492.1 1165C1493.3 1164.4 1494.4 1163.7 1495.6 1163C1496.8 1162.4 1498 1161.7 1499.2 1161C1500.4 1160.3 1501.6 1159.6 1502.7 1158.9C1503.9 1158.2 1505.1 1157.5 1506.3 1156.8C1507.4 1156.1 1508.6 1155.3 1509.8 1154.6C1510.9 1153.8 1512.1 1153.1 1513.2 1152.3C1514.4 1151.6 1515.5 1150.8 1516.6 1150C1517.8 1149.2 1518.9 1148.4 1520 1147.6C1521.1 1146.8 1522.2 1146 1523.3 1145.2C1524.4 1144.4 1525.5 1143.6 1526.6 1142.7C1527.6 1141.9 1528.7 1141 1529.8 1140.2C1530.8 1139.3 1531.9 1138.5 1532.9 1137.6C1533.9 1136.7 1534.9 1135.8 1535.9 1134.9C1536.9 1134 1537.9 1133.1 1538.9 1132.2C1539.9 1131.3 1540.8 1130.3 1541.8 1129.4C1542.7 1128.4 1543.6 1127.5 1544.5 1126.5C1545.5 1125.6 1546.4 1124.6 1547.2 1123.6C1548.1 1122.6 1549 1121.6 1549.9 1120.6C1550.7 1119.6 1551.5 1118.6 1552.4 1117.6C1553.2 1116.6 1554 1115.5 1554.8 1114.5C1555.6 1113.4 1556.4 1112.4 1557.2 1111.3C1557.9 1110.3 1558.7 1109.2 1559.5 1108.1C1560.2 1107.1 1560.9 1106 1561.7 1104.9C1562.4 1103.8 1563.1 1102.7 1563.8 1101.6C1564.5 1100.5 1565.2 1099.4 1565.8 1098.2C1566.5 1097.1 1567.2 1096 1567.8 1094.8C1568.5 1093.7 1569.1 1092.5 1569.7 1091.4C1570.4 1090.2 1571 1089.1 1571.6 1087.9C1572.2 1086.7 1572.8 1085.6 1573.4 1084.4C1574 1083.2 1574.6 1082 1575.1 1080.8C1575.7 1079.6 1576.2 1078.4 1576.8 1077.2C1577.3 1076 1577.9 1074.8 1578.4 1073.6C1578.9 1072.4 1579.4 1071.2 1580 1070C1580.5 1068.7 1581 1067.5 1581.5 1066.3C1581.9 1065 1582.4 1063.8 1582.9 1062.6C1583.4 1061.3 1583.9 1060.1 1584.3 1058.8C1584.8 1057.6 1585.2 1056.3 1585.7 1055C1586.1 1053.8 1586.5 1052.5 1587 1051.2C1587.4 1050 1587.8 1048.7 1588.2 1047.4C1588.7 1046.2 1589.1 1044.9 1589.5 1043.6C1589.9 1042.3 1590.3 1041 1590.7 1039.7C1591 1038.5 1591.4 1037.2 1591.8 1035.9C1592.2 1034.6 1592.6 1033.3 1592.9 1032C1593.3 1030.7 1593.7 1029.4 1594 1028.1C1594.4 1026.8 1594.7 1025.5 1595.1 1024.2C1595.4 1022.9 1595.8 1021.6 1596.1 1020.3C1596.4 1019 1596.8 1017.7 1597.1 1016.4C1597.4 1015.1 1597.7 1013.8 1598.1 1012.5C1598.4 1011.1 1598.7 1009.8 1599 1008.5C1599.3 1007.2 1599.7 1005.9 1600 1004.6C1600.3 1003.3 1600.6 1002 1600.9 1000.7C1601.2 999.4 1601.5 998.1 1601.8 996.8C1602.1 995.4 1602.4 994.1 1602.7 992.8C1603 991.5 1603.3 990.2 1603.6 988.9C1603.8 987.6 1604.1 986.3 1604.4 985C1604.7 983.7 1605 982.4 1605.3 981.1C1605.6 979.8 1605.9 978.5 1606.1 977.2C1606.4 975.9 1606.7 974.6 1607 973.3C1607.3 972 1607.5 970.7 1607.8 969.4C1608.1 968.1 1608.4 966.8 1608.6 965.5C1608.9 964.2 1609.2 962.9 1609.5 961.6C1609.7 960.3 1610 959 1610.3 957.7C1610.6 956.4 1610.8 955.1 1611.1 953.8C1611.4 952.5 1611.6 951.2 1611.9 949.9C1612.2 948.6 1612.5 947.3 1612.7 946C1613 944.7 1613.3 943.4 1613.5 942.1C1613.8 940.8 1614.1 939.5 1614.3 938.2C1614.6 936.9 1614.9 935.6 1615.1 934.3C1615.4 933 1615.7 931.7 1616 930.3C1616.2 929 1616.5 927.7 1616.8 926.4C1617 925.1 1617.3 923.8 1617.6 922.4C1617.8 921.1 1618.1 919.8 1618.4 918.5C1618.7 917.2 1618.9 915.9 1619.2 914.5C1619.5 913.2 1619.7 911.9 1620 910.6C1620.3 909.3 1620.6 907.9 1620.8 906.6C1621.1 905.3 1621.4 904 1621.6 902.7C1621.9 901.3 1622.2 900 1622.5 898.7C1622.7 897.4 1623 896.1 1623.3 894.7C1623.6 893.4 1623.8 892.1 1624.1 890.8C1624.4 889.5 1624.7 888.2 1625 886.8C1625.2 885.5 1625.5 884.2 1625.8 882.9C1626.1 881.6 1626.3 880.3 1626.6 879C1626.9 877.7 1627.2 876.3 1627.5 875C1627.8 873.7 1628 872.4 1628.3 871.1C1628.6 869.8 1628.9 868.5 1629.2 867.2C1629.5 865.9 1629.8 864.6 1630 863.3C1630.3 862 1630.6 860.7 1630.9 859.4C1631.2 858.1 1631.5 856.8 1631.8 855.5C1632.1 854.3 1632.4 853 1632.7 851.7C1633 850.4 1633.3 849.1 1633.6 847.8C1633.9 846.5 1634.2 845.3 1634.5 844C1634.8 842.7 1635.1 841.4 1635.4 840.2C1635.7 838.9 1636 837.6 1636.3 836.3C1636.6 835.1 1637 833.8 1637.3 832.5C1637.6 831.3 1637.9 830 1638.3 828.7C1638.6 827.4 1639 826.2 1639.3 824.9C1639.6 823.6 1640 822.4 1640.3 821.1C1640.7 819.8 1641.1 818.6 1641.4 817.3C1641.8 816 1642.2 814.8 1642.6 813.5C1642.9 812.2 1643.3 811 1643.7 809.7C1644.1 808.4 1644.5 807.2 1644.9 805.9C1645.3 804.6 1645.8 803.3 1646.2 802.1C1646.6 800.8 1647 799.5 1647.5 798.2C1647.9 797 1648.4 795.7 1648.8 794.4C1649.3 793.1 1649.8 791.9 1650.3 790.6C1650.7 789.3 1651.2 788 1651.7 786.7C1652.2 785.4 1652.8 784.2 1653.3 782.9C1653.8 781.6 1654.3 780.3 1654.9 779C1655.4 777.7 1656 776.4 1656.5 775.1C1657.1 773.8 1657.7 772.5 1658.3 771.2C1658.9 769.9 1659.5 768.6 1660.2 767.4C1660.8 766.1 1661.5 764.9 1662.2 763.7C1663 762.5 1663.7 761.4 1664.6 760.3C1665.4 759.2 1666.2 758.1 1667.2 757.1C1668.1 756.2 1669.1 755.2 1670.1 754.4C1671.2 753.6 1672.3 752.8 1673.4 752.2C1674.5 751.7 1675.7 751.3 1676.8 751.1C1677.9 751 1679.1 751 1680.2 751.2C1681.3 751.4 1682.4 751.8 1683.5 752.3C1684.6 752.8 1685.7 753.5 1686.7 754.2C1687.8 755 1688.8 755.9 1689.8 756.8C1690.9 757.7 1691.8 758.8 1692.8 759.9C1693.8 760.9 1694.7 762.1 1695.6 763.2C1696.5 764.4 1697.3 765.6 1698.2 766.8C1699 767.9 1699.8 769.1 1700.5 770.3C1701.3 771.5 1702 772.7 1702.7 773.9C1703.4 775.1 1704.1 776.3 1704.8 777.5C1705.4 778.7 1706 779.9 1706.6 781.1C1707.2 782.3 1707.8 783.5 1708.4 784.7C1708.9 785.9 1709.5 787.1 1710 788.3C1710.5 789.5 1711.1 790.7 1711.6 792C1712.1 793.2 1712.6 794.4 1713 795.6C1713.5 796.8 1714 798.1 1714.5 799.3C1715 800.5 1715.4 801.7 1715.9 803C1716.4 804.2 1716.8 805.4 1717.3 806.7C1717.7 807.9 1718.2 809.2 1718.7 810.4C1719.1 811.6 1719.6 812.9 1720 814.1C1720.4 815.4 1720.9 816.6 1721.3 817.9C1721.8 819.1 1722.2 820.4 1722.6 821.6C1723.1 822.9 1723.5 824.2 1723.9 825.4C1724.3 826.7 1724.8 827.9 1725.2 829.2C1725.6 830.5 1726 831.7 1726.4 833C1726.8 834.3 1727.3 835.5 1727.7 836.8C1728.1 838.1 1728.5 839.3 1728.9 840.6C1729.3 841.9 1729.7 843.2 1730.1 844.4C1730.5 845.7 1730.9 847 1731.3 848.3C1731.6 849.5 1732 850.8 1732.4 852.1C1732.8 853.4 1733.2 854.7 1733.6 856C1733.9 857.2 1734.3 858.5 1734.7 859.8C1735.1 861.1 1735.4 862.4 1735.8 863.7C1736.2 865 1736.6 866.3 1736.9 867.5C1737.3 868.8 1737.6 870.1 1738 871.4C1738.4 872.7 1738.7 874 1739.1 875.3C1739.4 876.6 1739.8 877.9 1740.1 879.2C1740.5 880.5 1740.8 881.8 1741.2 883.1C1741.5 884.4 1741.9 885.7 1742.2 887C1742.6 888.3 1742.9 889.6 1743.3 890.9C1743.6 892.2 1743.9 893.5 1744.3 894.8C1744.6 896.1 1745 897.4 1745.3 898.7C1745.6 900 1745.9 901.3 1746.3 902.6C1746.6 903.9 1746.9 905.2 1747.3 906.5C1747.6 907.8 1747.9 909.1 1748.2 910.4C1748.6 911.7 1748.9 913 1749.2 914.3C1749.5 915.6 1749.8 916.9 1750.2 918.2C1750.5 919.5 1750.8 920.8 1751.1 922.1C1751.4 923.4 1751.7 924.7 1752.1 926C1752.4 927.3 1752.7 928.6 1753 929.9C1753.3 931.2 1753.6 932.5 1753.9 933.8C1754.2 935.1 1754.5 936.4 1754.9 937.7C1755.2 939 1755.5 940.3 1755.8 941.6C1756.1 942.9 1756.4 944.2 1756.7 945.5C1757 946.8 1757.3 948.1 1757.6 949.4C1757.9 950.7 1758.2 952 1758.5 953.3C1758.8 954.6 1759.1 955.9 1759.4 957.2C1759.7 958.5 1760 959.8 1760.3 961.1C1760.6 962.4 1760.9 963.7 1761.2 965C1761.5 966.3 1761.8 967.6 1762.1 968.9C1762.4 970.2 1762.7 971.5 1763 972.7C1763.3 974 1763.6 975.3 1763.9 976.6C1764.2 977.9 1764.5 979.2 1764.8 980.5C1765.1 981.8 1765.4 983.1 1765.7 984.4C1766 985.7 1766.3 987 1766.6 988.3C1766.9 989.6 1767.2 990.9 1767.5 992.2C1767.8 993.4 1768.1 994.7 1768.4 996C1768.7 997.3 1769 998.6 1769.3 999.9C1769.6 1001.2 1769.9 1002.5 1770.2 1003.8C1770.5 1005.1 1770.8 1006.4 1771.1 1007.7C1771.4 1009 1771.7 1010.3 1772 1011.5C1772.3 1012.8 1772.6 1014.1 1772.9 1015.4C1773.2 1016.7 1773.5 1018 1773.8 1019.3C1774.1 1020.6 1774.4 1021.9 1774.8 1023.2C1775.1 1024.5 1775.4 1025.8 1775.7 1027.1C1776 1028.4 1776.3 1029.7 1776.6 1031C1776.9 1032.2 1777.3 1033.5 1777.6 1034.8C1777.9 1036.1 1778.2 1037.4 1778.5 1038.7C1778.8 1040 1779.2 1041.3 1779.5 1042.6C1779.8 1043.9 1780.1 1045.2 1780.5 1046.5C1780.8 1047.8 1781.1 1049.1 1781.4 1050.4C1781.8 1051.7 1782.1 1053 1782.4 1054.3C1782.8 1055.6 1783.1 1056.9 1783.4 1058.2C1783.8 1059.5 1784.1 1060.8 1784.4 1062.1C1784.8 1063.4 1785.1 1064.7 1785.5 1066C1785.8 1067.3 1786.1 1068.6 1786.5 1069.9C1786.8 1071.2 1787.2 1072.5 1787.5 1073.8C1787.9 1075.1 1788.2 1076.4 1788.6 1077.7C1789 1079 1789.3 1080.3 1789.7 1081.6C1790 1082.9 1790.4 1084.2 1790.8 1085.5C1791.1 1086.8 1791.5 1088.1 1791.9 1089.4C1792.2 1090.7 1792.6 1092 1793 1093.3C1793.3 1094.7 1793.7 1096 1794.1 1097.3C1794.5 1098.6 1794.9 1099.9 1795.3 1101.2C1795.6 1102.5 1796 1103.8 1796.4 1105.1C1796.8 1106.4 1797.2 1107.7 1797.6 1109C1798 1110.3 1798.5 1111.6 1798.9 1112.9C1799.3 1114.2 1799.7 1115.5 1800.2 1116.8C1800.6 1118 1801.1 1119.3 1801.5 1120.6C1802 1121.9 1802.5 1123.1 1802.9 1124.4C1803.4 1125.6 1803.9 1126.9 1804.4 1128.1C1804.9 1129.4 1805.5 1130.6 1806 1131.8C1806.5 1133.1 1807.1 1134.3 1807.6 1135.5C1808.2 1136.7 1808.8 1137.9 1809.4 1139C1810 1140.2 1810.6 1141.4 1811.2 1142.5C1811.8 1143.7 1812.5 1144.8 1813.1 1146C1813.8 1147.1 1814.5 1148.2 1815.2 1149.3C1815.9 1150.4 1816.6 1151.5 1817.4 1152.5C1818.1 1153.6 1818.9 1154.7 1819.7 1155.7C1820.4 1156.7 1821.3 1157.7 1822.1 1158.7C1822.9 1159.7 1823.8 1160.7 1824.7 1161.7C1825.6 1162.6 1826.5 1163.5 1827.4 1164.5C1828.3 1165.4 1829.3 1166.3 1830.3 1167.1C1831.3 1168 1832.3 1168.9 1833.3 1169.7C1834.4 1170.5 1835.4 1171.3 1836.5 1172.1C1837.6 1172.9 1838.7 1173.6 1839.8 1174.4C1841 1175.1 1842.1 1175.8 1843.3 1176.5C1844.5 1177.2 1845.6 1177.8 1846.8 1178.4C1848 1179 1849.3 1179.6 1850.5 1180.2C1851.7 1180.8 1853 1181.3 1854.2 1181.8C1855.5 1182.3 1856.8 1182.8 1858 1183.2C1859.3 1183.7 1860.6 1184.1 1861.9 1184.5C1863.2 1184.9 1864.5 1185.2 1865.8 1185.5C1867.1 1185.8 1868.5 1186.1 1869.8 1186.4C1871.1 1186.6 1872.4 1186.8 1873.8 1187C1875.1 1187.2 1876.4 1187.3 1877.7 1187.4C1879.1 1187.5 1880.4 1187.5 1881.7 1187.6" fill="none" stroke="#ff0000" stroke-width="6" stroke-linecap="round" stroke-linejoin="round"/><path d="M1474.1 1187.5C1475.4 1187.4 1476.8 1187.4 1478.2 1187.3C1479.5 1187.2 1480.9 1187 1482.2 1186.8C1483.5 1186.6 1484.8 1186.3 1486.1 1186C1487.4 1185.7 1488.7 1185.3 1490 1184.9C1491.3 1184.5 1492.5 1184 1493.7 1183.6C1495 1183.1 1496.2 1182.5 1497.4 1182C1498.6 1181.4 1499.8 1180.8 1500.9 1180.1C1502.1 1179.5 1503.2 1178.8 1504.3 1178.1C1505.4 1177.4 1506.5 1176.6 1507.6 1175.8C1508.6 1175 1509.7 1174.2 1510.7 1173.4C1511.7 1172.6 1512.7 1171.7 1513.7 1170.8C1514.7 1169.9 1515.6 1169 1516.6 1168.1C1517.5 1167.1 1518.4 1166.2 1519.2 1165.2C1520.1 1164.2 1521 1163.2 1521.8 1162.2C1522.6 1161.2 1523.4 1160.1 1524.1 1159.1C1524.9 1158 1525.6 1156.9 1526.4 1155.9C1527.1 1154.8 1527.8 1153.7 1528.4 1152.6C1529.1 1151.4 1529.8 1150.3 1530.4 1149.2C1531 1148 1531.6 1146.9 1532.2 1145.7C1532.8 1144.5 1533.4 1143.3 1533.9 1142.1C1534.5 1140.9 1535 1139.7 1535.5 1138.5C1536 1137.3 1536.5 1136.1 1537 1134.8C1537.5 1133.6 1538 1132.3 1538.4 1131.1C1538.9 1129.8 1539.3 1128.6 1539.8 1127.3C1540.2 1126 1540.6 1124.7 1541 1123.4C1541.4 1122.2 1541.8 1120.9 1542.2 1119.6C1542.6 1118.3 1542.9 1117 1543.3 1115.7C1543.7 1114.3 1544 1113 1544.4 1111.7C1544.7 1110.4 1545 1109.1 1545.4 1107.8C1545.7 1106.4 1546 1105.1 1546.4 1103.8C1546.7 1102.5 1547 1101.2 1547.3 1099.8C1547.6 1098.5 1547.9 1097.2 1548.3 1095.9C1548.6 1094.5 1548.9 1093.2 1549.2 1091.9C1549.5 1090.6 1549.8 1089.3 1550.1 1087.9C1550.4 1086.6 1550.7 1085.3 1551 1084C1551.3 1082.7 1551.6 1081.4 1551.9 1080C1552.2 1078.7 1552.5 1077.4 1552.7 1076.1C1553 1074.8 1553.3 1073.5 1553.6 1072.2C1553.9 1070.9 1554.2 1069.6 1554.5 1068.2C1554.8 1066.9 1555 1065.6 1555.3 1064.3C1555.6 1063 1555.9 1061.7 1556.2 1060.4C1556.4 1059.1 1556.7 1057.8 1557 1056.5C1557.3 1055.2 1557.5 1053.9 1557.8 1052.6C1558.1 1051.3 1558.4 1050 1558.6 1048.7C1558.9 1047.4 1559.2 1046.1 1559.4 1044.8C1559.7 1043.5 1560 1042.2 1560.3 1040.9C1560.5 1039.6 1560.8 1038.3 1561.1 1037C1561.3 1035.7 1561.6 1034.4 1561.9 1033.1C1562.1 1031.8 1562.4 1030.5 1562.6 1029.2C1562.9 1027.9 1563.2 1026.6 1563.4 1025.3C1563.7 1024 1564 1022.7 1564.2 1021.4C1564.5 1020.1 1564.7 1018.8 1565 1017.5C1565.3 1016.2 1565.5 1014.9 1565.8 1013.6C1566 1012.3 1566.3 1011 1566.6 1009.7C1566.8 1008.4 1567.1 1007.1 1567.3 1005.8C1567.6 1004.5 1567.9 1003.2 1568.1 1002C1568.4 1000.7 1568.6 999.4 1568.9 998.1C1569.1 996.8 1569.4 995.5 1569.7 994.2C1569.9 992.9 1570.2 991.6 1570.4 990.3C1570.7 989 1571 987.7 1571.2 986.4C1571.5 985.1 1571.7 983.8 1572 982.5C1572.3 981.2 1572.5 979.9 1572.8 978.6C1573 977.3 1573.3 976 1573.6 974.7C1573.8 973.4 1574.1 972.1 1574.4 970.8C1574.6 969.5 1574.9 968.2 1575.1 966.9C1575.4 965.6 1575.7 964.3 1575.9 963C1576.2 961.7 1576.5 960.3 1576.7 959C1577 957.7 1577.3 956.4 1577.6 955.1C1577.8 953.8 1578.1 952.5 1578.4 951.2C1578.6 949.9 1578.9 948.6 1579.2 947.3C1579.5 946 1579.7 944.7 1580 943.3C1580.3 942 1580.5 940.7 1580.8 939.4C1581.1 938.1 1581.4 936.8 1581.7 935.5C1581.9 934.2 1582.2 932.9 1582.5 931.6C1582.8 930.2 1583 928.9 1583.3 927.6C1583.6 926.3 1583.9 925 1584.2 923.7C1584.5 922.4 1584.7 921.1 1585 919.8C1585.3 918.4 1585.6 917.1 1585.9 915.8C1586.2 914.5 1586.4 913.2 1586.7 911.9C1587 910.6 1587.3 909.3 1587.6 908C1587.9 906.7 1588.2 905.3 1588.5 904C1588.8 902.7 1589.1 901.4 1589.3 900.1C1589.6 898.8 1589.9 897.5 1590.2 896.2C1590.5 894.9 1590.8 893.6 1591.1 892.3C1591.4 890.9 1591.7 889.6 1592 888.3C1592.3 887 1592.6 885.7 1592.9 884.4C1593.2 883.1 1593.5 881.8 1593.8 880.5C1594.1 879.2 1594.4 877.9 1594.7 876.6C1595 875.3 1595.3 874 1595.6 872.7C1595.9 871.4 1596.2 870.1 1596.5 868.8C1596.8 867.5 1597.1 866.2 1597.5 864.9C1597.8 863.6 1598.1 862.3 1598.4 861C1598.7 859.7 1599 858.4 1599.3 857.1C1599.6 855.8 1599.9 854.6 1600.3 853.3C1600.6 852 1600.9 850.7 1601.2 849.4C1601.5 848.1 1601.8 846.8 1602.1 845.5C1602.5 844.2 1602.8 843 1603.1 841.7C1603.4 840.4 1603.7 839.1 1604.1 837.8C1604.4 836.6 1604.7 835.3 1605 834C1605.4 832.7 1605.7 831.4 1606 830.2C1606.3 828.9 1606.7 827.6 1607 826.3C1607.3 825.1 1607.7 823.8 1608 822.5C1608.4 821.3 1608.7 820 1609.1 818.7C1609.5 817.5 1609.8 816.2 1610.2 815C1610.6 813.7 1611 812.5 1611.4 811.2C1611.8 810 1612.2 808.7 1612.6 807.5C1613 806.2 1613.4 805 1613.9 803.7C1614.3 802.5 1614.8 801.3 1615.2 800C1615.7 798.8 1616.2 797.6 1616.7 796.4C1617.2 795.1 1617.7 793.9 1618.2 792.7C1618.8 791.5 1619.3 790.3 1619.9 789.1C1620.4 787.9 1621 786.7 1621.6 785.5C1622.2 784.3 1622.9 783.1 1623.5 781.9C1624.2 780.7 1624.8 779.5 1625.5 778.3C1626.2 777.1 1626.9 776 1627.7 774.8C1628.4 773.6 1629.2 772.5 1629.9 771.3C1630.7 770.2 1631.5 769 1632.4 767.9C1633.2 766.7 1634.1 765.6 1635 764.5C1635.9 763.4 1636.8 762.3 1637.7 761.3C1638.7 760.2 1639.7 759.2 1640.7 758.2C1641.7 757.2 1642.7 756.2 1643.8 755.3C1644.9 754.4 1646 753.5 1647.1 752.6C1648.3 751.7 1649.4 750.9 1650.6 750.2C1651.8 749.4 1653.1 748.7 1654.3 748.2C1655.5 747.6 1656.7 747.1 1658 746.8C1659.2 746.5 1660.4 746.3 1661.6 746.3C1662.8 746.2 1664.1 746.3 1665.2 746.5C1666.4 746.7 1667.6 747 1668.7 747.3C1669.9 747.7 1671 748.2 1672.1 748.8C1673.3 749.4 1674.3 750 1675.4 750.8C1676.5 751.5 1677.5 752.3 1678.5 753.1C1679.5 754 1680.5 754.9 1681.4 755.9C1682.4 756.8 1683.3 757.8 1684.1 758.8C1685 759.8 1685.8 760.9 1686.6 762C1687.4 763 1688.2 764.1 1688.9 765.2C1689.6 766.4 1690.3 767.5 1690.9 768.6C1691.6 769.8 1692.2 771 1692.8 772.2C1693.4 773.3 1694 774.6 1694.5 775.8C1695 777 1695.6 778.2 1696.1 779.5C1696.6 780.7 1697 782 1697.5 783.2C1697.9 784.5 1698.4 785.8 1698.8 787.1C1699.2 788.3 1699.6 789.6 1700 790.9C1700.4 792.2 1700.8 793.5 1701.2 794.8C1701.5 796.1 1701.9 797.5 1702.3 798.8C1702.6 800.1 1703 801.4 1703.3 802.7C1703.7 804 1704 805.3 1704.4 806.6C1704.7 807.9 1705.1 809.3 1705.4 810.6C1705.7 811.9 1706.1 813.2 1706.4 814.5C1706.7 815.8 1707.1 817.1 1707.4 818.4C1707.7 819.7 1708 821 1708.4 822.4C1708.7 823.7 1709 825 1709.3 826.3C1709.6 827.6 1709.9 828.9 1710.2 830.2C1710.5 831.5 1710.8 832.8 1711.2 834.1C1711.5 835.4 1711.8 836.7 1712.1 838.1C1712.4 839.4 1712.6 840.7 1712.9 842C1713.2 843.3 1713.5 844.6 1713.8 845.9C1714.1 847.2 1714.4 848.5 1714.7 849.8C1714.9 851.1 1715.2 852.4 1715.5 853.7C1715.8 855 1716.1 856.4 1716.3 857.7C1716.6 859 1716.9 860.3 1717.2 861.6C1717.4 862.9 1717.7 864.2 1718 865.5C1718.2 866.8 1718.5 868.1 1718.8 869.4C1719 870.7 1719.3 872 1719.5 873.3C1719.8 874.6 1720.1 875.9 1720.3 877.2C1720.6 878.5 1720.8 879.9 1721.1 881.2C1721.3 882.5 1721.6 883.8 1721.8 885.1C1722.1 886.4 1722.3 887.7 1722.6 889C1722.8 890.3 1723.1 891.6 1723.3 892.9C1723.6 894.2 1723.8 895.5 1724 896.8C1724.3 898.1 1724.5 899.4 1724.8 900.7C1725 902 1725.2 903.3 1725.5 904.6C1725.7 906 1725.9 907.3 1726.2 908.6C1726.4 909.9 1726.7 911.2 1726.9 912.5C1727.1 913.8 1727.4 915.1 1727.6 916.4C1727.8 917.7 1728 919 1728.3 920.3C1728.5 921.6 1728.7 922.9 1729 924.2C1729.2 925.5 1729.4 926.9 1729.7 928.2C1729.9 929.5 1730.1 930.8 1730.3 932.1C1730.6 933.4 1730.8 934.7 1731 936C1731.2 937.3 1731.5 938.6 1731.7 939.9C1731.9 941.2 1732.2 942.5 1732.4 943.8C1732.6 945.2 1732.8 946.5 1733.1 947.8C1733.3 949.1 1733.5 950.4 1733.7 951.7C1734 953 1734.2 954.3 1734.4 955.6C1734.6 956.9 1734.9 958.2 1735.1 959.5C1735.3 960.9 1735.5 962.2 1735.8 963.5C1736 964.8 1736.2 966.1 1736.4 967.4C1736.7 968.7 1736.9 970 1737.1 971.3C1737.4 972.6 1737.6 973.9 1737.8 975.3C1738 976.6 1738.3 977.9 1738.5 979.2C1738.7 980.5 1739 981.8 1739.2 983.1C1739.4 984.4 1739.7 985.7 1739.9 987C1740.1 988.4 1740.4 989.7 1740.6 991C1740.8 992.3 1741.1 993.6 1741.3 994.9C1741.5 996.2 1741.8 997.5 1742 998.8C1742.2 1000.2 1742.5 1001.5 1742.7 1002.8C1743 1004.1 1743.2 1005.4 1743.4 1006.7C1743.7 1008 1743.9 1009.3 1744.2 1010.6C1744.4 1011.9 1744.7 1013.3 1744.9 1014.6C1745.2 1015.9 1745.4 1017.2 1745.7 1018.5C1745.9 1019.8 1746.2 1021.1 1746.4 1022.4C1746.7 1023.7 1746.9 1025 1747.2 1026.4C1747.4 1027.7 1747.7 1029 1747.9 1030.3C1748.2 1031.6 1748.5 1032.9 1748.7 1034.2C1749 1035.5 1749.3 1036.8 1749.5 1038.1C1749.8 1039.5 1750.1 1040.8 1750.3 1042.1C1750.6 1043.4 1750.9 1044.7 1751.1 1046C1751.4 1047.3 1751.7 1048.6 1752 1049.9C1752.2 1051.2 1752.5 1052.5 1752.8 1053.9C1753.1 1055.2 1753.4 1056.5 1753.7 1057.8C1753.9 1059.1 1754.2 1060.4 1754.5 1061.7C1754.8 1063 1755.1 1064.3 1755.4 1065.6C1755.7 1066.9 1756 1068.2 1756.3 1069.5C1756.6 1070.9 1756.9 1072.2 1757.2 1073.5C1757.5 1074.8 1757.8 1076.1 1758.1 1077.4C1758.4 1078.7 1758.7 1080 1759.1 1081.3C1759.4 1082.6 1759.7 1083.9 1760 1085.2C1760.3 1086.5 1760.7 1087.8 1761 1089.1C1761.3 1090.5 1761.6 1091.8 1762 1093.1C1762.3 1094.4 1762.6 1095.7 1763 1097C1763.3 1098.3 1763.7 1099.6 1764 1100.9C1764.3 1102.2 1764.7 1103.5 1765 1104.8C1765.4 1106.1 1765.7 1107.4 1766.1 1108.7C1766.5 1110 1766.8 1111.3 1767.2 1112.6C1767.6 1113.9 1767.9 1115.2 1768.3 1116.5C1768.7 1117.8 1769.1 1119.1 1769.5 1120.3C1769.9 1121.6 1770.3 1122.9 1770.7 1124.2C1771.2 1125.4 1771.6 1126.7 1772 1128C1772.5 1129.2 1772.9 1130.5 1773.4 1131.7C1773.9 1133 1774.4 1134.2 1774.9 1135.4C1775.3 1136.7 1775.9 1137.9 1776.4 1139.1C1776.9 1140.3 1777.4 1141.5 1778 1142.7C1778.6 1143.9 1779.1 1145.1 1779.7 1146.2C1780.3 1147.4 1780.9 1148.6 1781.6 1149.7C1782.2 1150.8 1782.9 1152 1783.5 1153.1C1784.2 1154.2 1784.9 1155.3 1785.6 1156.4C1786.3 1157.5 1787.1 1158.5 1787.8 1159.6C1788.6 1160.6 1789.4 1161.7 1790.2 1162.7C1791 1163.7 1791.9 1164.7 1792.7 1165.7C1793.6 1166.7 1794.5 1167.7 1795.4 1168.6C1796.3 1169.6 1797.3 1170.5 1798.2 1171.4C1799.2 1172.3 1800.2 1173.2 1801.2 1174.1C1802.3 1174.9 1803.3 1175.8 1804.4 1176.6C1805.5 1177.4 1806.6 1178.2 1807.7 1178.9C1808.9 1179.7 1810 1180.4 1811.2 1181C1812.3 1181.7 1813.5 1182.3 1814.7 1182.9C1816 1183.5 1817.2 1184 1818.4 1184.5C1819.7 1185 1820.9 1185.4 1822.2 1185.8C1823.5 1186.2 1824.8 1186.6 1826.1 1186.8C1827.4 1187.1 1828.7 1187.3 1830.1 1187.5C1831.4 1187.6 1832.8 1187.7 1834.1 1187.8" fill="none" stroke="#0000ff" stroke-width="6" stroke-linecap="round" stroke-linejoin="round"/><rect x="1401.3" y="730.2" width="499.1" height="476.1" fill="none" stroke="#000" stroke-width="2.8" stroke-linejoin="round"/><path d="M1484 1206.3H1891.2M1484 1206.3V1215.3M1585.8 1206.3V1215.3M1687.6 1206.3V1215.3M1789.4 1206.3V1215.3M1891.2 1206.3V1215.3M1401.3 1189.4V763.6M1401.3 1189.4H1392.3M1401.3 1118.4H1392.3M1401.3 1047.5H1392.3M1401.3 976.5H1392.3M1401.3 905.6H1392.3M1401.3 834.6H1392.3M1401.3 763.6H1392.3" fill="none" stroke="#000" stroke-width="2.8" stroke-linecap="round"/><text transform="translate(1484 1261.8) scale(0.934 1)" font-size="35.2" text-anchor="middle">0.10</text><text transform="translate(1585.8 1261.8) scale(0.934 1)" font-size="35.2" text-anchor="middle">0.15</text><text transform="translate(1687.6 1261.8) scale(0.934 1)" font-size="35.2" text-anchor="middle">0.20</text><text transform="translate(1789.4 1261.8) scale(0.934 1)" font-size="35.2" text-anchor="middle">0.25</text><text transform="translate(1891.2 1261.8) scale(0.934 1)" font-size="35.2" text-anchor="middle">0.30</text><text transform="translate(1370.8 1189.4) rotate(-90) scale(0.934 1)" font-size="35.2" text-anchor="middle">0</text><text transform="translate(1370.8 1118.4) rotate(-90) scale(0.934 1)" font-size="35.2" text-anchor="middle">2</text><text transform="translate(1370.8 1047.5) rotate(-90) scale(0.934 1)" font-size="35.2" text-anchor="middle">4</text><text transform="translate(1370.8 976.5) rotate(-90) scale(0.934 1)" font-size="35.2" text-anchor="middle">6</text><text transform="translate(1370.8 905.6) rotate(-90) scale(0.934 1)" font-size="35.2" text-anchor="middle">8</text><text transform="translate(1370.8 834.6) rotate(-90) scale(0.934 1)" font-size="35.2" text-anchor="middle">10</text><text transform="translate(1370.8 763.6) rotate(-90) scale(0.934 1)" font-size="35.2" text-anchor="middle">12</text><text transform="translate(1650.8 1305.4) scale(0.994 1)" font-size="32.4" text-anchor="middle">Prediction Performance</text><text transform="translate(1327.2 967.4) rotate(-90) scale(1.015 1)" font-size="32.4" text-anchor="middle">Density (%)</text><text transform="translate(1650.5 705.6) scale(0.9843 1)" font-size="40" font-weight="bold" text-anchor="middle">LUAD Survival MCC</text><text transform="translate(1419.6 778.6) scale(0.924 1)" font-size="35" font-weight="bold">p = 0.079</text><text transform="translate(1310.1 699.2) scale(1.0 1)" font-size="54" font-weight="bold">f</text></g>
</svg></body></html>
